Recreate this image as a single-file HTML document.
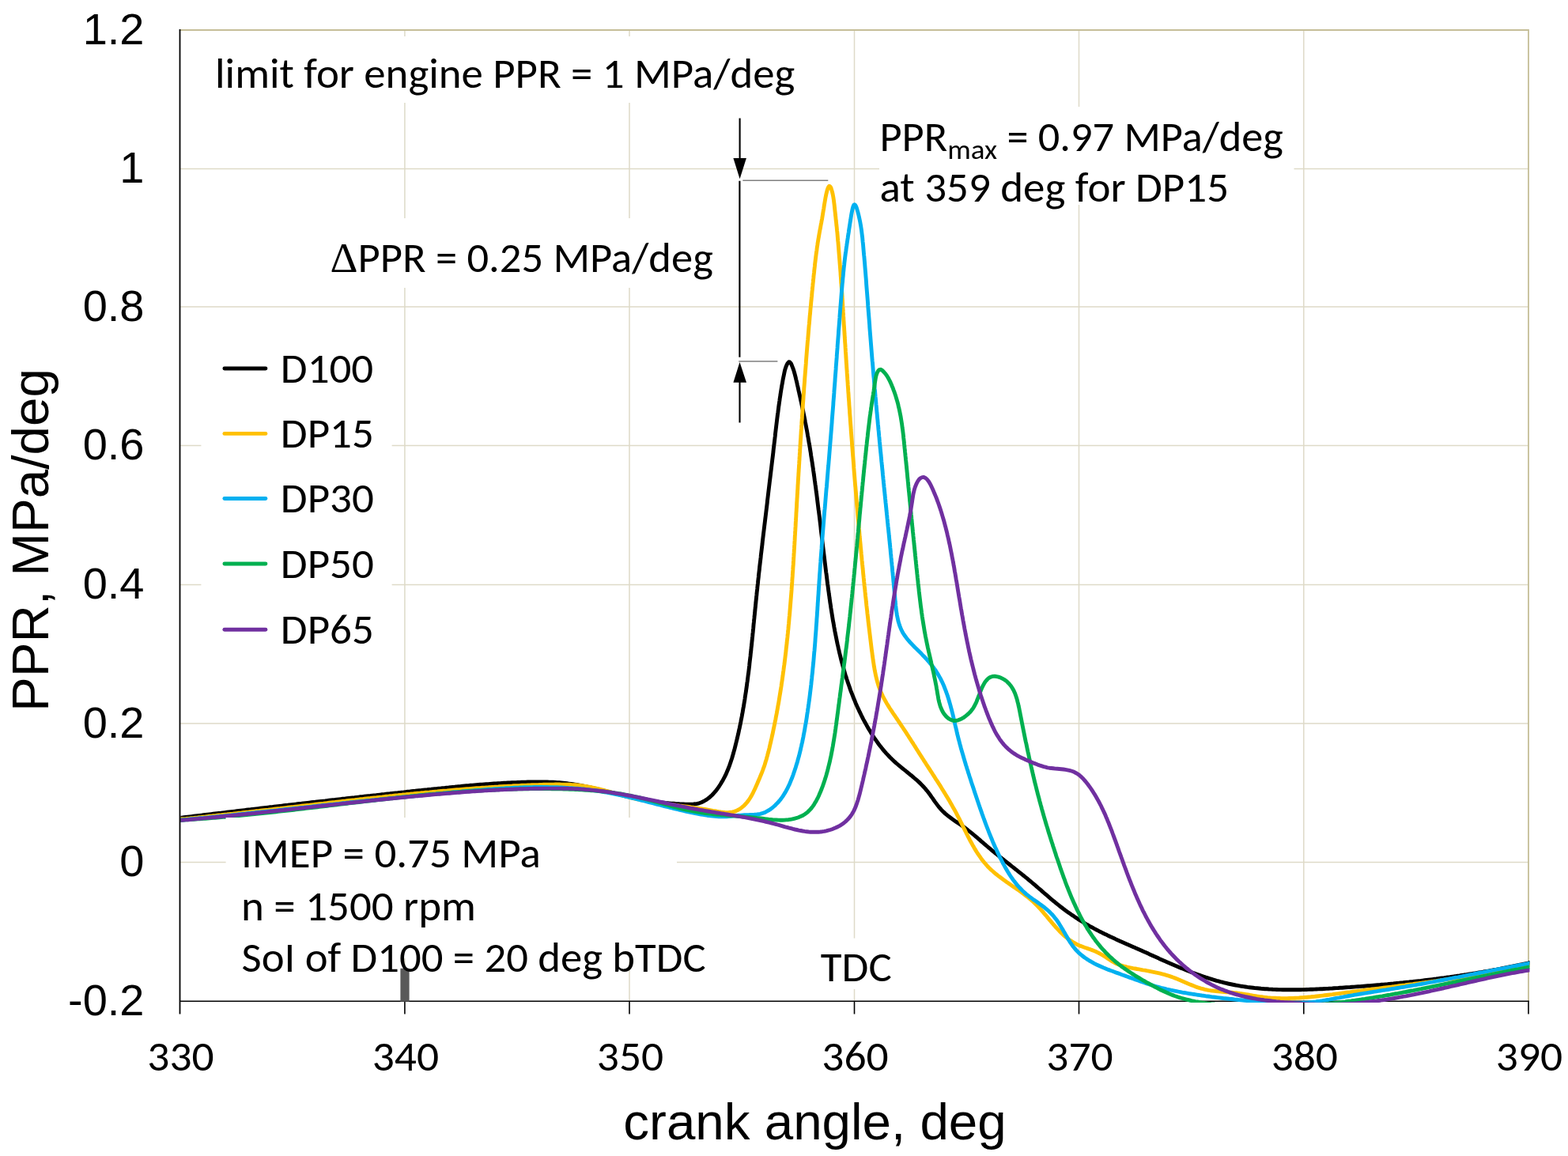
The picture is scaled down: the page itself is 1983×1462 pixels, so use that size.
<!DOCTYPE html><html><head><meta charset="utf-8"><title>PPR chart</title><style>html,body{margin:0;padding:0;background:#fff}svg{display:block}</style></head><body>
<svg width="1983" height="1462" viewBox="0 0 1983 1462">
<rect width="1983" height="1462" fill="#fff"/>
<defs><clipPath id="pa"><rect x="228.4" y="38" width="1706.1" height="1230.1"/></clipPath></defs>
<path d="M227.5,213.5H1933M227.5,388H1933M227.5,563.5H1933M227.5,739.6H1933M227.5,915H1933M227.5,1090.6H1933M511.9,38V1266.3M796,38V1266.3M1080.5,38V1266.3M1364.5,38V1266.3M1648.8,38V1266.3" stroke="#DEDAC8" stroke-width="1.5" fill="none"/>
<path d="M227.5,38H1933V1266.3" stroke="#C5BE98" stroke-width="1.8" fill="none"/>
<path d="M227.5,1266.3H1933.9" stroke="#000" stroke-width="1.6" fill="none"/>
<path d="M511.9,1266.3V1282.5M796,1266.3V1282.5M1080.5,1266.3V1282.5M1364.5,1266.3V1282.5M1648.8,1266.3V1282.5M1933,1266.3V1282.5" stroke="#000" stroke-width="1.6" fill="none"/>
<rect x="506.4" y="1224.7" width="11.2" height="42" fill="#595959"/>
<g clip-path="url(#pa)" fill="none" stroke-width="4.9" stroke-linejoin="round" stroke-linecap="round">
<path stroke="#000000" d="M227.5,1034.4L230.0,1034.1L232.5,1033.8L234.9,1033.5L237.4,1033.2L239.9,1032.9L242.4,1032.6L244.9,1032.3L247.3,1032.0L249.8,1031.7L252.3,1031.4L254.8,1031.1L257.3,1030.8L259.7,1030.5L262.2,1030.2L264.7,1029.9L267.2,1029.6L269.7,1029.3L272.1,1029.0L274.6,1028.7L277.1,1028.4L279.6,1028.2L282.1,1027.9L284.5,1027.6L287.0,1027.3L289.5,1027.0L292.0,1026.7L294.5,1026.4L297.0,1026.1L299.4,1025.8L301.9,1025.5L304.4,1025.2L306.9,1024.9L309.4,1024.6L311.8,1024.3L314.3,1024.0L316.8,1023.8L319.3,1023.5L321.8,1023.2L324.2,1022.9L326.7,1022.6L329.2,1022.3L331.7,1022.0L334.2,1021.7L336.6,1021.4L339.1,1021.1L341.6,1020.8L344.1,1020.6L346.6,1020.3L349.1,1020.0L351.5,1019.7L354.0,1019.4L356.5,1019.1L359.0,1018.8L361.5,1018.5L363.9,1018.3L366.4,1018.0L368.9,1017.7L371.4,1017.4L373.9,1017.1L376.3,1016.8L378.8,1016.5L381.3,1016.3L383.8,1016.0L386.3,1015.7L388.8,1015.4L391.2,1015.1L393.7,1014.8L396.2,1014.5L398.7,1014.3L401.2,1014.0L403.6,1013.7L406.1,1013.4L408.6,1013.1L411.1,1012.9L413.6,1012.6L416.1,1012.3L418.5,1012.0L421.0,1011.7L423.5,1011.5L426.0,1011.2L428.5,1010.9L430.9,1010.6L433.4,1010.3L435.9,1010.1L438.4,1009.8L440.9,1009.5L443.4,1009.2L445.8,1008.9L448.3,1008.7L450.8,1008.4L453.3,1008.1L455.8,1007.8L458.3,1007.6L460.7,1007.3L463.2,1007.0L465.7,1006.7L468.2,1006.5L470.7,1006.2L473.1,1005.9L475.6,1005.7L478.1,1005.4L480.6,1005.1L483.1,1004.8L485.6,1004.6L488.0,1004.3L490.5,1004.0L493.0,1003.8L495.5,1003.5L498.0,1003.2L500.5,1002.9L502.9,1002.7L505.4,1002.4L507.9,1002.1L510.4,1001.9L512.9,1001.6L515.4,1001.3L517.8,1001.1L520.3,1000.8L522.8,1000.5L525.3,1000.3L527.8,1000.0L530.3,999.7L532.8,999.5L535.2,999.2L537.7,998.9L540.2,998.7L542.7,998.4L545.2,998.2L547.7,997.9L550.1,997.6L552.6,997.4L555.1,997.1L557.6,996.9L560.1,996.6L562.6,996.4L565.1,996.1L567.5,995.9L570.0,995.6L572.5,995.4L575.0,995.2L577.5,994.9L580.0,994.7L582.5,994.5L584.9,994.2L587.4,994.0L589.9,993.8L592.4,993.6L594.9,993.3L597.4,993.1L599.9,992.9L602.4,992.7L604.9,992.5L607.3,992.3L609.8,992.1L612.3,991.9L614.8,991.7L617.3,991.6L619.8,991.4L622.3,991.2L624.8,991.0L627.3,990.9L629.8,990.7L632.3,990.6L634.8,990.4L637.3,990.3L639.8,990.2L642.2,990.0L644.7,989.9L647.2,989.8L649.7,989.7L652.2,989.6L654.7,989.5L657.2,989.4L659.7,989.3L662.2,989.2L664.7,989.1L667.2,989.0L669.7,989.0L672.2,988.9L674.7,988.9L677.2,988.9L679.7,988.9L682.2,988.9L684.7,988.9L687.2,988.9L689.7,989.0L692.2,989.0L694.7,989.1L697.2,989.2L699.7,989.3L702.2,989.4L704.7,989.6L707.2,989.8L709.6,990.0L712.1,990.2L714.6,990.5L717.1,990.8L719.5,991.1L722.0,991.4L724.5,991.7L726.9,992.1L729.4,992.5L731.9,993.0L734.3,993.4L736.8,993.9L739.2,994.4L741.7,994.9L744.1,995.4L746.6,995.9L749.0,996.5L751.4,997.0L753.9,997.6L756.3,998.2L758.8,998.8L761.2,999.4L763.6,1000.0L766.1,1000.6L768.5,1001.2L770.9,1001.8L773.4,1002.4L775.8,1003.0L778.2,1003.6L780.7,1004.2L783.1,1004.8L785.5,1005.4L788.0,1006.0L790.4,1006.6L792.8,1007.2L795.2,1007.7L797.7,1008.3L800.1,1008.8L802.5,1009.3L805.0,1009.8L807.4,1010.3L809.9,1010.8L812.3,1011.2L814.7,1011.7L817.2,1012.1L819.6,1012.5L822.1,1012.9L824.5,1013.3L827.0,1013.6L829.5,1014.0L831.9,1014.3L834.4,1014.6L836.8,1014.9L839.3,1015.2L841.8,1015.5L844.3,1015.7L846.8,1015.9L849.3,1016.1L851.8,1016.3L854.3,1016.5L856.8,1016.6L859.3,1016.8L861.8,1016.9L864.3,1017.0L866.9,1017.1L869.4,1017.1L871.9,1017.1L874.5,1017.1L877.0,1017.0L879.5,1016.8L881.9,1016.4L884.2,1015.8L886.5,1015.0L888.7,1014.0L890.8,1012.9L892.9,1011.7L894.9,1010.3L896.9,1008.8L898.7,1007.2L900.6,1005.5L902.3,1003.6L904.0,1001.7L905.6,999.8L907.2,997.7L908.7,995.6L910.1,993.5L911.5,991.3L912.8,989.1L914.1,986.9L915.3,984.7L916.5,982.4L917.6,980.2L918.6,977.9L919.6,975.6L920.6,973.3L921.5,970.9L922.4,968.6L923.2,966.3L924.0,963.9L924.8,961.5L925.6,959.2L926.3,956.8L927.0,954.4L927.7,952.0L928.3,949.6L929.0,947.2L929.6,944.8L930.2,942.4L930.8,940.0L931.4,937.5L932.0,935.1L932.6,932.7L933.1,930.3L933.7,927.9L934.2,925.4L934.7,923.0L935.3,920.6L935.8,918.1L936.3,915.7L936.8,913.2L937.2,910.8L937.7,908.4L938.2,905.9L938.6,903.5L939.1,901.0L939.5,898.6L939.9,896.1L940.4,893.7L940.8,891.2L941.2,888.7L941.6,886.3L942.0,883.8L942.3,881.4L942.7,878.9L943.1,876.4L943.5,874.0L943.8,871.5L944.2,869.0L944.5,866.6L944.8,864.1L945.2,861.6L945.5,859.1L945.8,856.7L946.1,854.2L946.5,851.7L946.8,849.2L947.1,846.7L947.4,844.3L947.7,841.8L947.9,839.3L948.2,836.8L948.5,834.3L948.8,831.8L949.1,829.3L949.3,826.9L949.6,824.4L949.9,821.9L950.1,819.4L950.4,816.9L950.7,814.4L950.9,811.9L951.2,809.4L951.4,806.9L951.7,804.5L951.9,802.0L952.2,799.5L952.4,797.0L952.7,794.5L952.9,792.0L953.1,789.5L953.4,787.0L953.6,784.5L953.9,782.0L954.1,779.5L954.4,777.1L954.6,774.6L954.9,772.1L955.1,769.6L955.4,767.1L955.6,764.6L955.9,762.1L956.1,759.6L956.4,757.1L956.6,754.7L956.9,752.2L957.1,749.7L957.4,747.2L957.7,744.7L957.9,742.2L958.2,739.7L958.5,737.3L958.7,734.8L959.0,732.3L959.3,729.8L959.5,727.3L959.8,724.8L960.1,722.4L960.4,719.9L960.6,717.4L960.9,714.9L961.2,712.4L961.5,710.0L961.8,707.5L962.1,705.0L962.3,702.5L962.6,700.0L962.9,697.6L963.2,695.1L963.5,692.6L963.8,690.1L964.1,687.6L964.3,685.2L964.6,682.7L964.9,680.2L965.2,677.7L965.5,675.3L965.8,672.8L966.1,670.3L966.4,667.8L966.7,665.3L967.0,662.9L967.3,660.4L967.6,657.9L967.9,655.4L968.2,653.0L968.5,650.5L968.8,648.0L969.1,645.5L969.4,643.0L969.7,640.6L970.0,638.1L970.3,635.6L970.5,633.1L970.8,630.7L971.1,628.2L971.4,625.7L971.7,623.2L972.0,620.7L972.3,618.3L972.6,615.8L972.9,613.3L973.2,610.8L973.5,608.3L973.8,605.9L974.1,603.4L974.4,600.9L974.7,598.4L975.0,595.9L975.3,593.5L975.6,591.0L975.9,588.5L976.2,586.0L976.5,583.5L976.8,581.0L977.1,578.6L977.4,576.1L977.7,573.6L978.0,571.1L978.2,568.6L978.5,566.1L978.8,563.6L979.1,561.2L979.4,558.7L979.7,556.2L980.0,553.7L980.3,551.2L980.5,548.7L980.8,546.2L981.1,543.7L981.4,541.2L981.7,538.8L982.0,536.3L982.3,533.8L982.6,531.3L982.9,528.8L983.2,526.4L983.5,523.9L983.9,521.4L984.2,518.9L984.5,516.5L984.8,514.0L985.2,511.5L985.5,509.1L985.9,506.6L986.2,504.1L986.6,501.7L987.0,499.2L987.3,496.8L987.7,494.3L988.1,491.9L988.5,489.5L988.9,487.0L989.4,484.6L989.8,482.2L990.2,479.7L990.7,477.3L991.2,474.9L991.7,472.4L992.2,470.0L992.8,467.4L993.7,464.7L994.8,461.9L996.1,459.3L997.5,457.8L998.9,458.0L1000.3,459.6L1001.5,462.3L1002.6,465.1L1003.6,467.9L1004.4,470.5L1005.1,473.0L1005.7,475.4L1006.3,477.7L1006.8,480.0L1007.4,482.3L1007.9,484.6L1008.4,487.0L1009.0,489.3L1009.5,491.7L1010.0,494.1L1010.6,496.5L1011.1,498.9L1011.7,501.4L1012.2,503.8L1012.7,506.3L1013.3,508.7L1013.8,511.2L1014.3,513.6L1014.8,516.1L1015.4,518.6L1015.9,521.1L1016.4,523.5L1016.9,526.0L1017.4,528.5L1017.9,530.9L1018.3,533.4L1018.8,535.9L1019.3,538.4L1019.7,540.8L1020.2,543.3L1020.7,545.8L1021.1,548.2L1021.5,550.7L1022.0,553.2L1022.4,555.6L1022.8,558.1L1023.2,560.6L1023.7,563.0L1024.1,565.5L1024.5,568.0L1024.9,570.5L1025.3,572.9L1025.6,575.4L1026.0,577.9L1026.4,580.3L1026.8,582.8L1027.2,585.2L1027.5,587.7L1027.9,590.2L1028.3,592.6L1028.6,595.1L1029.0,597.6L1029.3,600.0L1029.7,602.5L1030.0,605.0L1030.3,607.4L1030.7,609.9L1031.0,612.4L1031.4,614.8L1031.7,617.3L1032.0,619.8L1032.3,622.2L1032.7,624.7L1033.0,627.2L1033.3,629.6L1033.6,632.1L1033.9,634.6L1034.2,637.0L1034.5,639.5L1034.8,642.0L1035.1,644.4L1035.5,646.9L1035.8,649.4L1036.1,651.8L1036.4,654.3L1036.7,656.8L1037.0,659.3L1037.3,661.7L1037.6,664.2L1037.9,666.7L1038.1,669.1L1038.4,671.6L1038.7,674.1L1039.0,676.5L1039.3,679.0L1039.6,681.5L1039.9,684.0L1040.2,686.4L1040.5,688.9L1040.8,691.4L1041.1,693.9L1041.4,696.3L1041.7,698.8L1042.0,701.3L1042.3,703.8L1042.6,706.3L1042.9,708.7L1043.2,711.2L1043.5,713.7L1043.8,716.2L1044.1,718.7L1044.4,721.2L1044.7,723.6L1045.1,726.1L1045.4,728.6L1045.7,731.1L1046.0,733.6L1046.3,736.1L1046.6,738.6L1047.0,741.0L1047.3,743.5L1047.6,746.0L1048.0,748.5L1048.3,751.0L1048.7,753.5L1049.0,756.0L1049.4,758.5L1049.7,761.0L1050.1,763.5L1050.5,765.9L1050.8,768.4L1051.2,770.9L1051.6,773.4L1052.0,775.9L1052.4,778.4L1052.8,780.8L1053.2,783.3L1053.6,785.8L1054.1,788.3L1054.5,790.7L1054.9,793.2L1055.4,795.7L1055.8,798.2L1056.3,800.6L1056.8,803.1L1057.3,805.5L1057.8,808.0L1058.3,810.4L1058.8,812.9L1059.3,815.3L1059.9,817.8L1060.4,820.2L1061.0,822.7L1061.5,825.1L1062.1,827.5L1062.7,829.9L1063.3,832.4L1063.9,834.8L1064.5,837.2L1065.2,839.6L1065.8,842.0L1066.5,844.4L1067.2,846.8L1067.9,849.2L1068.6,851.6L1069.3,853.9L1070.1,856.3L1070.8,858.7L1071.6,861.0L1072.4,863.4L1073.2,865.7L1074.0,868.1L1074.8,870.4L1075.6,872.8L1076.5,875.1L1077.4,877.4L1078.3,879.7L1079.2,882.0L1080.1,884.3L1081.1,886.6L1082.0,888.9L1083.0,891.2L1084.0,893.4L1085.0,895.7L1086.1,897.9L1087.1,900.2L1088.2,902.4L1089.3,904.7L1090.4,906.9L1091.5,909.1L1092.7,911.3L1093.9,913.5L1095.1,915.7L1096.3,917.9L1097.5,920.0L1098.8,922.2L1100.1,924.3L1101.4,926.5L1102.7,928.6L1104.1,930.7L1105.4,932.8L1106.9,934.9L1108.3,936.9L1109.7,938.9L1111.2,941.0L1112.7,943.0L1114.3,944.9L1115.8,946.9L1117.4,948.8L1119.0,950.7L1120.7,952.6L1122.4,954.4L1124.1,956.2L1125.8,958.0L1127.6,959.8L1129.4,961.5L1131.2,963.2L1133.1,964.9L1135.0,966.5L1136.9,968.1L1138.8,969.7L1140.8,971.3L1142.7,972.9L1144.7,974.4L1146.6,976.0L1148.6,977.6L1150.5,979.2L1152.5,980.7L1154.4,982.3L1156.3,984.0L1158.2,985.6L1160.1,987.2L1161.9,988.9L1163.7,990.6L1165.5,992.4L1167.2,994.2L1168.9,996.0L1170.5,997.9L1172.1,999.8L1173.7,1001.8L1175.2,1003.8L1176.7,1005.8L1178.1,1007.9L1179.6,1009.9L1181.0,1012.0L1182.5,1014.1L1184.0,1016.1L1185.5,1018.1L1187.0,1020.1L1188.6,1022.0L1190.3,1023.9L1192.0,1025.7L1193.8,1027.4L1195.6,1029.1L1197.5,1030.7L1199.5,1032.3L1201.5,1033.8L1203.5,1035.3L1205.5,1036.7L1207.6,1038.2L1209.7,1039.6L1211.8,1041.0L1213.9,1042.4L1215.9,1043.9L1218.0,1045.3L1220.0,1046.8L1222.0,1048.3L1224.0,1049.8L1225.9,1051.3L1227.9,1052.9L1229.8,1054.4L1231.7,1056.0L1233.6,1057.6L1235.5,1059.2L1237.4,1060.8L1239.2,1062.4L1241.1,1064.1L1243.0,1065.7L1244.9,1067.3L1246.7,1068.9L1248.6,1070.5L1250.5,1072.1L1252.4,1073.7L1254.3,1075.3L1256.2,1076.9L1258.1,1078.5L1260.1,1080.0L1262.0,1081.6L1263.9,1083.2L1265.9,1084.7L1267.8,1086.3L1269.8,1087.8L1271.8,1089.4L1273.7,1090.9L1275.7,1092.5L1277.6,1094.0L1279.6,1095.6L1281.6,1097.1L1283.5,1098.7L1285.5,1100.2L1287.5,1101.8L1289.4,1103.3L1291.4,1104.9L1293.3,1106.5L1295.3,1108.0L1297.2,1109.6L1299.2,1111.2L1301.1,1112.8L1303.0,1114.4L1304.9,1116.0L1306.8,1117.6L1308.7,1119.2L1310.6,1120.8L1312.5,1122.5L1314.4,1124.1L1316.3,1125.7L1318.1,1127.3L1320.0,1129.0L1321.9,1130.6L1323.8,1132.2L1325.7,1133.8L1327.6,1135.5L1329.4,1137.1L1331.3,1138.7L1333.3,1140.2L1335.2,1141.8L1337.1,1143.4L1339.0,1144.9L1341.0,1146.5L1343.0,1148.0L1344.9,1149.5L1346.9,1151.0L1348.9,1152.4L1351.0,1153.9L1353.0,1155.3L1355.0,1156.7L1357.1,1158.1L1359.1,1159.5L1361.2,1160.9L1363.3,1162.3L1365.4,1163.6L1367.5,1164.9L1369.6,1166.2L1371.7,1167.5L1373.8,1168.8L1376.0,1170.0L1378.1,1171.3L1380.3,1172.5L1382.5,1173.7L1384.6,1174.8L1386.8,1176.0L1389.0,1177.1L1391.2,1178.3L1393.4,1179.4L1395.6,1180.5L1397.8,1181.6L1400.1,1182.6L1402.3,1183.7L1404.5,1184.8L1406.8,1185.8L1409.0,1186.8L1411.3,1187.9L1413.6,1188.9L1415.8,1189.9L1418.1,1190.9L1420.4,1191.9L1422.6,1192.9L1424.9,1193.9L1427.2,1194.9L1429.5,1195.9L1431.7,1196.9L1434.0,1197.9L1436.3,1199.0L1438.6,1200.0L1440.9,1201.0L1443.2,1202.0L1445.4,1203.0L1447.7,1204.1L1450.0,1205.1L1452.3,1206.1L1454.6,1207.2L1456.9,1208.2L1459.2,1209.3L1461.5,1210.3L1463.8,1211.3L1466.1,1212.4L1468.4,1213.4L1470.7,1214.4L1473.0,1215.4L1475.3,1216.5L1477.6,1217.5L1479.9,1218.5L1482.2,1219.5L1484.6,1220.5L1486.9,1221.5L1489.2,1222.4L1491.5,1223.4L1493.9,1224.4L1496.2,1225.3L1498.5,1226.3L1500.8,1227.2L1503.2,1228.1L1505.5,1229.1L1507.9,1230.0L1510.2,1230.8L1512.6,1231.7L1514.9,1232.6L1517.3,1233.4L1519.6,1234.2L1522.0,1235.1L1524.4,1235.9L1526.7,1236.6L1529.1,1237.4L1531.5,1238.1L1533.9,1238.9L1536.3,1239.6L1538.6,1240.3L1541.0,1240.9L1543.4,1241.6L1545.8,1242.2L1548.2,1242.8L1550.7,1243.4L1553.1,1244.0L1555.5,1244.5L1557.9,1245.0L1560.3,1245.5L1562.8,1246.0L1565.2,1246.4L1567.7,1246.8L1570.1,1247.3L1572.6,1247.6L1575.0,1248.0L1577.5,1248.4L1579.9,1248.7L1582.4,1249.0L1584.8,1249.3L1587.3,1249.6L1589.8,1249.8L1592.3,1250.0L1594.7,1250.3L1597.2,1250.5L1599.7,1250.7L1602.2,1250.8L1604.7,1251.0L1607.2,1251.1L1609.7,1251.3L1612.1,1251.4L1614.6,1251.5L1617.1,1251.6L1619.6,1251.6L1622.1,1251.7L1624.6,1251.7L1627.1,1251.8L1629.6,1251.8L1632.2,1251.8L1634.7,1251.8L1637.2,1251.8L1639.7,1251.8L1642.2,1251.7L1644.7,1251.7L1647.2,1251.6L1649.7,1251.6L1652.2,1251.5L1654.8,1251.4L1657.3,1251.3L1659.8,1251.2L1662.3,1251.1L1664.8,1251.0L1667.3,1250.9L1669.8,1250.8L1672.3,1250.7L1674.9,1250.5L1677.4,1250.4L1679.9,1250.3L1682.4,1250.1L1684.9,1250.0L1687.4,1249.8L1689.9,1249.6L1692.4,1249.5L1694.9,1249.3L1697.4,1249.2L1699.9,1249.0L1702.4,1248.8L1704.9,1248.6L1707.4,1248.5L1709.9,1248.3L1712.4,1248.1L1714.9,1247.9L1717.4,1247.7L1719.9,1247.6L1722.4,1247.4L1724.9,1247.2L1727.4,1247.0L1729.9,1246.8L1732.3,1246.6L1734.8,1246.4L1737.3,1246.2L1739.8,1246.0L1742.3,1245.8L1744.8,1245.6L1747.2,1245.3L1749.7,1245.1L1752.2,1244.9L1754.7,1244.7L1757.1,1244.4L1759.6,1244.2L1762.1,1244.0L1764.6,1243.7L1767.0,1243.5L1769.5,1243.3L1772.0,1243.0L1774.5,1242.8L1776.9,1242.5L1779.4,1242.2L1781.9,1242.0L1784.3,1241.7L1786.8,1241.5L1789.3,1241.2L1791.7,1240.9L1794.2,1240.6L1796.7,1240.4L1799.1,1240.1L1801.6,1239.8L1804.1,1239.5L1806.5,1239.2L1809.0,1238.9L1811.5,1238.6L1813.9,1238.3L1816.4,1238.0L1818.8,1237.6L1821.3,1237.3L1823.8,1237.0L1826.2,1236.7L1828.7,1236.3L1831.2,1236.0L1833.6,1235.7L1836.1,1235.3L1838.5,1235.0L1841.0,1234.6L1843.5,1234.2L1845.9,1233.9L1848.4,1233.5L1850.8,1233.1L1853.3,1232.8L1855.8,1232.4L1858.2,1232.0L1860.7,1231.6L1863.1,1231.2L1865.6,1230.8L1868.1,1230.4L1870.5,1230.0L1873.0,1229.6L1875.5,1229.2L1877.9,1228.7L1880.4,1228.3L1882.9,1227.9L1885.3,1227.4L1887.8,1227.0L1890.2,1226.5L1892.7,1226.1L1895.2,1225.6L1897.6,1225.2L1900.1,1224.7L1902.6,1224.2L1905.1,1223.7L1907.5,1223.2L1910.0,1222.7L1912.5,1222.2L1914.9,1221.7L1917.4,1221.2L1919.9,1220.7L1922.3,1220.2L1924.8,1219.7L1927.3,1219.1L1929.8,1218.6L1932.3,1218.1L1934.7,1217.5"/>
<path stroke="#FFC000" d="M227.5,1036.1L230.0,1035.8L232.5,1035.6L235.0,1035.4L237.4,1035.1L239.9,1034.9L242.4,1034.6L244.9,1034.4L247.4,1034.1L249.9,1033.9L252.3,1033.6L254.8,1033.4L257.3,1033.1L259.8,1032.9L262.3,1032.6L264.8,1032.3L267.3,1032.1L269.7,1031.8L272.2,1031.6L274.7,1031.3L277.2,1031.0L279.7,1030.8L282.2,1030.5L284.6,1030.2L287.1,1030.0L289.6,1029.7L292.1,1029.4L294.6,1029.2L297.1,1028.9L299.5,1028.6L302.0,1028.3L304.5,1028.1L307.0,1027.8L309.5,1027.5L312.0,1027.2L314.5,1027.0L316.9,1026.7L319.4,1026.4L321.9,1026.1L324.4,1025.8L326.9,1025.6L329.4,1025.3L331.8,1025.0L334.3,1024.7L336.8,1024.4L339.3,1024.2L341.8,1023.9L344.3,1023.6L346.7,1023.3L349.2,1023.0L351.7,1022.7L354.2,1022.5L356.7,1022.2L359.2,1021.9L361.6,1021.6L364.1,1021.3L366.6,1021.0L369.1,1020.7L371.6,1020.5L374.0,1020.2L376.5,1019.9L379.0,1019.6L381.5,1019.3L384.0,1019.0L386.5,1018.7L388.9,1018.4L391.4,1018.2L393.9,1017.9L396.4,1017.6L398.9,1017.3L401.4,1017.0L403.8,1016.7L406.3,1016.4L408.8,1016.2L411.3,1015.9L413.8,1015.6L416.3,1015.3L418.8,1015.0L421.2,1014.7L423.7,1014.5L426.2,1014.2L428.7,1013.9L431.2,1013.6L433.7,1013.3L436.1,1013.1L438.6,1012.8L441.1,1012.5L443.6,1012.2L446.1,1011.9L448.6,1011.7L451.0,1011.4L453.5,1011.1L456.0,1010.8L458.5,1010.6L461.0,1010.3L463.5,1010.0L465.9,1009.7L468.4,1009.5L470.9,1009.2L473.4,1008.9L475.9,1008.7L478.4,1008.4L480.9,1008.1L483.3,1007.9L485.8,1007.6L488.3,1007.3L490.8,1007.1L493.3,1006.8L495.8,1006.6L498.3,1006.3L500.7,1006.0L503.2,1005.8L505.7,1005.5L508.2,1005.3L510.7,1005.0L513.2,1004.8L515.7,1004.5L518.1,1004.3L520.6,1004.0L523.1,1003.8L525.6,1003.5L528.1,1003.3L530.6,1003.1L533.1,1002.8L535.5,1002.6L538.0,1002.3L540.5,1002.1L543.0,1001.9L545.5,1001.6L548.0,1001.4L550.5,1001.2L553.0,1001.0L555.4,1000.7L557.9,1000.5L560.4,1000.3L562.9,1000.1L565.4,999.9L567.9,999.6L570.4,999.4L572.9,999.2L575.4,999.0L577.8,998.8L580.3,998.6L582.8,998.4L585.3,998.2L587.8,998.0L590.3,997.8L592.8,997.6L595.3,997.4L597.8,997.2L600.3,997.0L602.7,996.8L605.2,996.6L607.7,996.5L610.2,996.3L612.7,996.1L615.2,995.9L617.7,995.8L620.2,995.6L622.7,995.4L625.2,995.3L627.7,995.1L630.2,995.0L632.6,994.8L635.1,994.7L637.6,994.5L640.1,994.4L642.6,994.2L645.1,994.1L647.6,994.0L650.1,993.8L652.6,993.7L655.1,993.6L657.6,993.5L660.1,993.3L662.6,993.2L665.1,993.1L667.6,993.0L670.1,992.9L672.6,992.8L675.1,992.7L677.6,992.6L680.1,992.6L682.6,992.5L685.1,992.4L687.6,992.3L690.1,992.3L692.6,992.2L695.1,992.2L697.6,992.1L700.1,992.1L702.6,992.0L705.1,992.0L707.6,992.0L710.1,992.1L712.6,992.1L715.1,992.2L717.6,992.2L720.1,992.3L722.6,992.5L725.1,992.6L727.5,992.8L730.0,993.0L732.5,993.3L735.0,993.6L737.4,993.9L739.9,994.3L742.4,994.7L744.8,995.1L747.3,995.6L749.7,996.1L752.2,996.6L754.6,997.2L757.1,997.7L759.5,998.3L762.0,999.0L764.4,999.6L766.8,1000.3L769.3,1000.9L771.7,1001.6L774.1,1002.3L776.5,1003.0L779.0,1003.7L781.4,1004.4L783.8,1005.1L786.2,1005.7L788.7,1006.4L791.1,1007.1L793.5,1007.7L795.9,1008.3L798.3,1008.9L800.7,1009.5L803.2,1010.1L805.6,1010.6L808.0,1011.2L810.4,1011.7L812.8,1012.1L815.3,1012.6L817.7,1013.0L820.1,1013.5L822.5,1013.9L825.0,1014.3L827.4,1014.7L829.8,1015.0L832.3,1015.4L834.7,1015.8L837.1,1016.1L839.6,1016.4L842.0,1016.8L844.4,1017.1L846.9,1017.4L849.3,1017.7L851.8,1018.0L854.2,1018.3L856.7,1018.6L859.2,1019.0L861.6,1019.3L864.1,1019.6L866.6,1019.9L869.0,1020.2L871.5,1020.5L874.0,1020.9L876.5,1021.2L879.0,1021.6L881.5,1021.9L884.0,1022.3L886.5,1022.7L889.0,1023.1L891.5,1023.5L894.0,1023.9L896.5,1024.3L899.1,1024.8L901.6,1025.3L904.1,1025.7L906.7,1026.2L909.2,1026.6L911.7,1027.0L914.2,1027.3L916.7,1027.5L919.1,1027.6L921.6,1027.5L923.9,1027.3L926.3,1026.9L928.6,1026.4L930.8,1025.6L933.0,1024.5L935.1,1023.3L937.2,1022.0L939.1,1020.4L941.0,1018.8L942.7,1017.0L944.4,1015.1L946.0,1013.1L947.4,1011.1L948.8,1009.0L950.1,1006.8L951.3,1004.6L952.5,1002.3L953.6,1000.0L954.7,997.7L955.8,995.3L956.8,993.0L957.8,990.7L958.8,988.3L959.8,986.0L960.8,983.7L961.7,981.4L962.7,979.1L963.6,976.9L964.5,974.5L965.3,972.2L966.2,969.9L967.0,967.5L967.7,965.2L968.4,962.8L969.2,960.4L969.8,958.0L970.5,955.6L971.1,953.2L971.8,950.8L972.4,948.4L973.0,946.0L973.5,943.5L974.1,941.1L974.7,938.7L975.2,936.2L975.8,933.8L976.3,931.4L976.9,928.9L977.4,926.5L977.9,924.1L978.4,921.6L978.9,919.2L979.4,916.7L979.9,914.3L980.4,911.8L980.9,909.4L981.3,906.9L981.8,904.5L982.3,902.0L982.7,899.6L983.2,897.1L983.6,894.7L984.0,892.2L984.5,889.8L984.9,887.3L985.3,884.8L985.7,882.4L986.1,879.9L986.5,877.5L986.9,875.0L987.3,872.5L987.7,870.1L988.1,867.6L988.4,865.1L988.8,862.7L989.2,860.2L989.5,857.7L989.9,855.2L990.2,852.8L990.5,850.3L990.9,847.8L991.2,845.4L991.5,842.9L991.9,840.4L992.2,837.9L992.5,835.5L992.8,833.0L993.1,830.5L993.4,828.0L993.7,825.5L994.0,823.1L994.2,820.6L994.5,818.1L994.8,815.6L995.1,813.1L995.3,810.6L995.6,808.2L995.9,805.7L996.1,803.2L996.4,800.7L996.6,798.2L996.9,795.7L997.1,793.2L997.3,790.7L997.6,788.3L997.8,785.8L998.0,783.3L998.2,780.8L998.5,778.3L998.7,775.8L998.9,773.3L999.1,770.8L999.3,768.3L999.5,765.8L999.7,763.3L999.9,760.8L1000.1,758.3L1000.3,755.8L1000.5,753.4L1000.7,750.9L1000.9,748.4L1001.1,745.9L1001.2,743.4L1001.4,740.9L1001.6,738.4L1001.8,735.9L1001.9,733.4L1002.1,730.9L1002.3,728.4L1002.4,725.9L1002.6,723.4L1002.8,720.9L1002.9,718.4L1003.1,715.9L1003.3,713.4L1003.4,710.9L1003.6,708.4L1003.7,705.9L1003.9,703.4L1004.0,700.9L1004.2,698.4L1004.3,695.9L1004.5,693.4L1004.6,690.9L1004.8,688.4L1004.9,685.9L1005.1,683.4L1005.2,680.9L1005.3,678.4L1005.5,675.9L1005.6,673.4L1005.8,670.9L1005.9,668.4L1006.1,665.9L1006.2,663.4L1006.3,660.9L1006.5,658.4L1006.6,655.9L1006.8,653.5L1006.9,651.0L1007.0,648.5L1007.2,646.0L1007.3,643.5L1007.5,641.0L1007.6,638.5L1007.7,636.0L1007.9,633.5L1008.0,631.0L1008.2,628.5L1008.3,626.0L1008.5,623.5L1008.6,621.0L1008.8,618.5L1008.9,616.0L1009.0,613.6L1009.2,611.1L1009.3,608.6L1009.5,606.1L1009.6,603.6L1009.8,601.1L1009.9,598.6L1010.1,596.1L1010.2,593.6L1010.4,591.1L1010.5,588.6L1010.7,586.2L1010.8,583.7L1011.0,581.2L1011.1,578.7L1011.3,576.2L1011.4,573.7L1011.6,571.2L1011.7,568.7L1011.9,566.2L1012.0,563.8L1012.2,561.3L1012.3,558.8L1012.5,556.3L1012.7,553.8L1012.8,551.3L1013.0,548.8L1013.1,546.3L1013.3,543.8L1013.5,541.4L1013.6,538.9L1013.8,536.4L1013.9,533.9L1014.1,531.4L1014.3,528.9L1014.4,526.4L1014.6,523.9L1014.8,521.5L1014.9,519.0L1015.1,516.5L1015.3,514.0L1015.4,511.5L1015.6,509.0L1015.8,506.5L1016.0,504.0L1016.1,501.5L1016.3,499.1L1016.5,496.6L1016.7,494.1L1016.8,491.6L1017.0,489.1L1017.2,486.6L1017.4,484.1L1017.6,481.6L1017.7,479.1L1017.9,476.7L1018.1,474.2L1018.3,471.7L1018.5,469.2L1018.7,466.7L1018.9,464.2L1019.1,461.7L1019.3,459.2L1019.4,456.7L1019.6,454.2L1019.8,451.7L1020.0,449.2L1020.2,446.8L1020.4,444.3L1020.6,441.8L1020.8,439.3L1021.0,436.8L1021.2,434.3L1021.4,431.8L1021.7,429.3L1021.9,426.8L1022.1,424.3L1022.3,421.8L1022.5,419.3L1022.7,416.8L1022.9,414.3L1023.1,411.8L1023.4,409.3L1023.6,406.8L1023.8,404.3L1024.0,401.8L1024.2,399.3L1024.5,396.9L1024.7,394.4L1024.9,391.9L1025.1,389.4L1025.4,386.9L1025.6,384.4L1025.8,381.9L1026.1,379.4L1026.3,376.9L1026.6,374.3L1026.8,371.8L1027.0,369.3L1027.3,366.8L1027.5,364.3L1027.8,361.8L1028.0,359.3L1028.3,356.8L1028.5,354.3L1028.8,351.8L1029.0,349.3L1029.3,346.8L1029.6,344.3L1029.8,341.8L1030.1,339.3L1030.4,336.8L1030.6,334.3L1030.9,331.9L1031.2,329.4L1031.5,326.9L1031.8,324.4L1032.1,322.0L1032.4,319.6L1032.8,317.1L1033.1,314.7L1033.4,312.3L1033.8,309.9L1034.1,307.5L1034.5,305.1L1034.9,302.7L1035.3,300.4L1035.7,298.0L1036.1,295.7L1036.5,293.4L1036.9,291.1L1037.4,288.8L1037.8,286.4L1038.2,284.1L1038.7,281.7L1039.1,279.3L1039.6,276.9L1040.0,274.4L1040.4,271.9L1040.8,269.4L1041.2,266.8L1041.7,264.1L1042.1,261.4L1042.5,258.7L1043.0,255.8L1043.5,252.9L1044.0,249.9L1044.6,246.9L1045.3,243.8L1046.0,241.0L1046.8,238.5L1047.6,236.7L1048.5,235.5L1049.3,235.4L1050.1,236.2L1051.0,237.8L1051.7,240.1L1052.5,242.8L1053.2,245.9L1053.8,249.1L1054.3,252.3L1054.7,255.5L1055.1,258.6L1055.4,261.6L1055.7,264.5L1056.0,267.2L1056.3,269.8L1056.5,272.2L1056.8,274.4L1057.0,276.6L1057.2,278.7L1057.5,280.8L1057.7,283.0L1057.9,285.2L1058.2,287.4L1058.4,289.7L1058.6,292.0L1058.9,294.4L1059.1,296.8L1059.3,299.3L1059.5,301.8L1059.7,304.3L1060.0,306.8L1060.2,309.3L1060.4,311.9L1060.6,314.4L1060.8,317.0L1061.0,319.5L1061.2,322.0L1061.4,324.6L1061.6,327.1L1061.8,329.6L1062.0,332.2L1062.2,334.7L1062.4,337.2L1062.6,339.7L1062.8,342.2L1063.0,344.7L1063.1,347.3L1063.3,349.8L1063.5,352.3L1063.7,354.8L1063.8,357.3L1064.0,359.8L1064.2,362.3L1064.4,364.8L1064.5,367.3L1064.7,369.8L1064.9,372.3L1065.0,374.8L1065.2,377.3L1065.4,379.8L1065.5,382.3L1065.7,384.7L1065.8,387.2L1066.0,389.7L1066.2,392.2L1066.3,394.7L1066.5,397.2L1066.6,399.7L1066.8,402.2L1066.9,404.6L1067.1,407.1L1067.2,409.6L1067.4,412.1L1067.6,414.6L1067.7,417.1L1067.9,419.5L1068.0,422.0L1068.2,424.5L1068.3,427.0L1068.5,429.5L1068.6,432.0L1068.8,434.4L1069.0,436.9L1069.1,439.4L1069.3,441.9L1069.4,444.4L1069.6,446.9L1069.8,449.4L1069.9,451.8L1070.1,454.3L1070.2,456.8L1070.4,459.3L1070.6,461.8L1070.7,464.3L1070.9,466.8L1071.1,469.3L1071.2,471.7L1071.4,474.2L1071.6,476.7L1071.7,479.2L1071.9,481.7L1072.1,484.2L1072.2,486.7L1072.4,489.2L1072.6,491.7L1072.7,494.2L1072.9,496.7L1073.1,499.1L1073.2,501.6L1073.4,504.1L1073.6,506.6L1073.8,509.1L1073.9,511.6L1074.1,514.1L1074.3,516.6L1074.5,519.1L1074.6,521.6L1074.8,524.1L1075.0,526.6L1075.2,529.1L1075.3,531.6L1075.5,534.0L1075.7,536.5L1075.9,539.0L1076.1,541.5L1076.2,544.0L1076.4,546.5L1076.6,549.0L1076.8,551.5L1077.0,554.0L1077.2,556.5L1077.4,559.0L1077.5,561.5L1077.7,564.0L1077.9,566.5L1078.1,569.0L1078.3,571.5L1078.5,574.0L1078.7,576.5L1078.9,578.9L1079.1,581.4L1079.3,583.9L1079.5,586.4L1079.7,588.9L1079.8,591.4L1080.0,593.9L1080.2,596.4L1080.4,598.9L1080.6,601.4L1080.8,603.9L1081.0,606.4L1081.2,608.9L1081.4,611.4L1081.6,613.9L1081.9,616.4L1082.1,618.9L1082.3,621.3L1082.5,623.8L1082.7,626.3L1082.9,628.8L1083.1,631.3L1083.3,633.8L1083.5,636.3L1083.7,638.8L1083.9,641.3L1084.2,643.8L1084.4,646.3L1084.6,648.8L1084.8,651.3L1085.0,653.7L1085.2,656.2L1085.5,658.7L1085.7,661.2L1085.9,663.7L1086.1,666.2L1086.3,668.7L1086.6,671.2L1086.8,673.7L1087.0,676.2L1087.2,678.6L1087.5,681.1L1087.7,683.6L1087.9,686.1L1088.2,688.6L1088.4,691.1L1088.6,693.6L1088.9,696.1L1089.1,698.5L1089.3,701.0L1089.6,703.5L1089.8,706.0L1090.0,708.5L1090.3,711.0L1090.5,713.5L1090.8,715.9L1091.0,718.4L1091.3,720.9L1091.5,723.4L1091.7,725.9L1092.0,728.4L1092.2,730.8L1092.5,733.3L1092.7,735.8L1093.0,738.3L1093.2,740.8L1093.5,743.2L1093.8,745.7L1094.0,748.2L1094.3,750.7L1094.5,753.2L1094.8,755.6L1095.1,758.1L1095.3,760.6L1095.6,763.1L1095.8,765.5L1096.1,768.0L1096.4,770.5L1096.7,773.0L1096.9,775.5L1097.2,777.9L1097.5,780.4L1097.8,782.9L1098.0,785.4L1098.3,787.8L1098.6,790.3L1098.9,792.8L1099.2,795.3L1099.5,797.8L1099.8,800.3L1100.1,802.7L1100.4,805.2L1100.7,807.7L1101.0,810.2L1101.3,812.7L1101.6,815.2L1101.9,817.7L1102.2,820.2L1102.5,822.7L1102.9,825.2L1103.2,827.7L1103.5,830.2L1103.9,832.7L1104.2,835.2L1104.6,837.7L1105.0,840.1L1105.3,842.6L1105.8,845.1L1106.2,847.6L1106.7,850.0L1107.2,852.5L1107.7,854.9L1108.3,857.4L1108.9,859.8L1109.5,862.1L1110.2,864.5L1110.9,866.9L1111.7,869.2L1112.6,871.5L1113.5,873.8L1114.4,876.1L1115.5,878.3L1116.5,880.5L1117.6,882.7L1118.8,884.9L1120.0,887.0L1121.2,889.2L1122.5,891.3L1123.8,893.4L1125.1,895.5L1126.5,897.6L1127.9,899.7L1129.3,901.8L1130.7,903.8L1132.1,905.9L1133.5,908.0L1134.9,910.0L1136.3,912.1L1137.7,914.2L1139.1,916.3L1140.5,918.4L1141.9,920.5L1143.3,922.6L1144.7,924.7L1146.1,926.8L1147.4,928.9L1148.8,931.0L1150.1,933.1L1151.5,935.2L1152.8,937.3L1154.2,939.4L1155.5,941.5L1156.9,943.6L1158.2,945.7L1159.5,947.9L1160.9,950.0L1162.2,952.1L1163.5,954.2L1164.9,956.3L1166.2,958.4L1167.6,960.5L1168.9,962.6L1170.3,964.7L1171.6,966.8L1173.0,968.9L1174.3,971.0L1175.7,973.0L1177.0,975.1L1178.4,977.2L1179.7,979.3L1181.1,981.4L1182.4,983.5L1183.7,985.6L1185.1,987.7L1186.4,989.7L1187.8,991.8L1189.1,993.9L1190.4,996.0L1191.7,998.2L1193.0,1000.3L1194.3,1002.4L1195.6,1004.5L1196.9,1006.6L1198.2,1008.8L1199.5,1010.9L1200.8,1013.1L1202.0,1015.2L1203.3,1017.4L1204.5,1019.6L1205.7,1021.8L1207.0,1024.0L1208.2,1026.2L1209.4,1028.4L1210.5,1030.6L1211.7,1032.9L1212.9,1035.1L1214.0,1037.4L1215.1,1039.6L1216.3,1041.9L1217.4,1044.2L1218.5,1046.5L1219.6,1048.7L1220.8,1051.0L1221.9,1053.3L1223.1,1055.6L1224.2,1057.8L1225.4,1060.1L1226.5,1062.3L1227.7,1064.5L1228.9,1066.7L1230.1,1068.9L1231.4,1071.1L1232.6,1073.3L1233.9,1075.4L1235.2,1077.5L1236.6,1079.6L1238.0,1081.7L1239.4,1083.7L1240.8,1085.7L1242.3,1087.7L1243.8,1089.6L1245.4,1091.5L1247.0,1093.4L1248.6,1095.2L1250.3,1097.0L1252.1,1098.7L1253.8,1100.4L1255.7,1102.0L1257.5,1103.7L1259.4,1105.3L1261.4,1106.8L1263.3,1108.3L1265.3,1109.8L1267.3,1111.3L1269.3,1112.8L1271.4,1114.2L1273.4,1115.7L1275.4,1117.1L1277.5,1118.5L1279.5,1119.9L1281.6,1121.4L1283.6,1122.8L1285.7,1124.2L1287.7,1125.6L1289.8,1127.1L1291.8,1128.5L1293.8,1130.0L1295.8,1131.5L1297.7,1133.0L1299.7,1134.5L1301.6,1136.1L1303.5,1137.7L1305.4,1139.3L1307.2,1141.0L1309.0,1142.7L1310.8,1144.5L1312.5,1146.2L1314.2,1148.1L1315.9,1149.9L1317.6,1151.8L1319.2,1153.7L1320.8,1155.6L1322.5,1157.5L1324.1,1159.4L1325.7,1161.4L1327.3,1163.3L1328.9,1165.2L1330.5,1167.1L1332.1,1169.0L1333.8,1170.9L1335.4,1172.8L1337.1,1174.6L1338.8,1176.4L1340.5,1178.2L1342.3,1179.9L1344.0,1181.6L1345.9,1183.3L1347.7,1184.9L1349.6,1186.4L1351.5,1187.9L1353.5,1189.4L1355.6,1190.7L1357.7,1192.0L1359.8,1193.2L1362.0,1194.4L1364.3,1195.4L1366.6,1196.4L1369.0,1197.3L1371.5,1198.2L1373.9,1199.0L1376.3,1199.9L1378.8,1200.7L1381.2,1201.6L1383.5,1202.5L1385.9,1203.5L1388.1,1204.6L1390.3,1205.7L1392.4,1206.9L1394.6,1208.1L1396.7,1209.4L1398.7,1210.7L1400.8,1212.1L1402.9,1213.5L1405.0,1214.8L1407.1,1216.1L1409.3,1217.3L1411.5,1218.5L1413.7,1219.5L1416.1,1220.4L1418.4,1221.2L1420.8,1221.9L1423.2,1222.5L1425.7,1223.1L1428.1,1223.6L1430.6,1224.1L1433.1,1224.6L1435.5,1225.0L1438.0,1225.5L1440.5,1225.9L1442.9,1226.3L1445.4,1226.8L1447.9,1227.2L1450.3,1227.7L1452.8,1228.1L1455.2,1228.6L1457.6,1229.1L1460.1,1229.6L1462.5,1230.1L1464.9,1230.6L1467.3,1231.2L1469.7,1231.8L1472.1,1232.4L1474.5,1233.1L1476.9,1233.8L1479.3,1234.6L1481.6,1235.4L1484.0,1236.2L1486.3,1237.1L1488.6,1238.0L1490.9,1239.0L1493.2,1240.0L1495.5,1241.0L1497.8,1242.0L1500.1,1243.0L1502.4,1244.0L1504.8,1245.0L1507.1,1245.9L1509.4,1246.8L1511.7,1247.7L1514.1,1248.6L1516.4,1249.3L1518.8,1250.1L1521.2,1250.7L1523.6,1251.3L1526.0,1251.8L1528.4,1252.3L1530.9,1252.7L1533.3,1253.0L1535.8,1253.3L1538.2,1253.6L1540.7,1253.9L1543.2,1254.1L1545.7,1254.3L1548.2,1254.5L1550.7,1254.7L1553.2,1254.9L1555.7,1255.1L1558.2,1255.3L1560.8,1255.6L1563.3,1255.8L1565.8,1256.1L1568.3,1256.5L1570.7,1256.8L1573.2,1257.2L1575.7,1257.6L1578.2,1258.0L1580.7,1258.5L1583.2,1258.9L1585.6,1259.3L1588.1,1259.7L1590.6,1260.1L1593.1,1260.5L1595.6,1260.8L1598.0,1261.1L1600.5,1261.4L1603.0,1261.7L1605.5,1261.9L1608.0,1262.1L1610.4,1262.2L1612.9,1262.3L1615.4,1262.4L1617.9,1262.5L1620.4,1262.6L1622.9,1262.6L1625.4,1262.6L1627.8,1262.6L1630.3,1262.5L1632.8,1262.4L1635.3,1262.4L1637.8,1262.2L1640.3,1262.1L1642.8,1262.0L1645.3,1261.8L1647.8,1261.6L1650.2,1261.4L1652.7,1261.2L1655.2,1261.0L1657.7,1260.8L1660.2,1260.5L1662.7,1260.3L1665.2,1260.0L1667.7,1259.7L1670.2,1259.4L1672.7,1259.1L1675.2,1258.8L1677.6,1258.5L1680.1,1258.2L1682.6,1257.9L1685.1,1257.6L1687.6,1257.2L1690.1,1256.9L1692.6,1256.6L1695.1,1256.3L1697.6,1255.9L1700.0,1255.6L1702.5,1255.3L1705.0,1255.0L1707.5,1254.7L1710.0,1254.3L1712.5,1254.0L1714.9,1253.7L1717.4,1253.4L1719.9,1253.1L1722.4,1252.8L1724.9,1252.4L1727.4,1252.1L1729.8,1251.8L1732.3,1251.5L1734.8,1251.2L1737.3,1250.9L1739.8,1250.6L1742.2,1250.3L1744.7,1249.9L1747.2,1249.6L1749.7,1249.3L1752.1,1249.0L1754.6,1248.7L1757.1,1248.4L1759.6,1248.1L1762.0,1247.8L1764.5,1247.4L1767.0,1247.1L1769.5,1246.8L1771.9,1246.5L1774.4,1246.2L1776.9,1245.9L1779.4,1245.5L1781.8,1245.2L1784.3,1244.9L1786.8,1244.6L1789.2,1244.2L1791.7,1243.9L1794.2,1243.6L1796.6,1243.3L1799.1,1242.9L1801.6,1242.6L1804.1,1242.3L1806.5,1241.9L1809.0,1241.6L1811.5,1241.3L1813.9,1240.9L1816.4,1240.6L1818.9,1240.2L1821.3,1239.9L1823.8,1239.5L1826.3,1239.2L1828.7,1238.8L1831.2,1238.5L1833.7,1238.1L1836.1,1237.7L1838.6,1237.4L1841.1,1237.0L1843.5,1236.6L1846.0,1236.3L1848.5,1235.9L1850.9,1235.5L1853.4,1235.1L1855.8,1234.7L1858.3,1234.3L1860.8,1234.0L1863.2,1233.6L1865.7,1233.2L1868.2,1232.8L1870.6,1232.3L1873.1,1231.9L1875.5,1231.5L1878.0,1231.1L1880.5,1230.7L1882.9,1230.3L1885.4,1229.8L1887.9,1229.4L1890.3,1229.0L1892.8,1228.5L1895.2,1228.1L1897.7,1227.6L1900.2,1227.2L1902.6,1226.7L1905.1,1226.2L1907.6,1225.8L1910.0,1225.3L1912.5,1224.8L1914.9,1224.3L1917.4,1223.8L1919.9,1223.3L1922.3,1222.8L1924.8,1222.3L1927.2,1221.8L1929.7,1221.3L1932.2,1220.8L1934.6,1220.3"/>
<path stroke="#00B0F0" d="M227.4,1037.2L229.9,1037.0L232.4,1036.8L234.9,1036.5L237.4,1036.3L239.9,1036.0L242.4,1035.8L244.9,1035.6L247.4,1035.3L249.9,1035.1L252.4,1034.8L254.9,1034.6L257.4,1034.4L259.9,1034.1L262.4,1033.9L264.9,1033.6L267.4,1033.4L269.9,1033.1L272.4,1032.9L274.9,1032.6L277.4,1032.4L279.9,1032.1L282.3,1031.9L284.8,1031.6L287.3,1031.4L289.8,1031.1L292.3,1030.9L294.8,1030.6L297.3,1030.4L299.8,1030.1L302.3,1029.8L304.7,1029.6L307.2,1029.3L309.7,1029.1L312.2,1028.8L314.7,1028.5L317.2,1028.3L319.7,1028.0L322.1,1027.8L324.6,1027.5L327.1,1027.2L329.6,1027.0L332.1,1026.7L334.6,1026.5L337.0,1026.2L339.5,1025.9L342.0,1025.7L344.5,1025.4L347.0,1025.1L349.5,1024.9L351.9,1024.6L354.4,1024.3L356.9,1024.1L359.4,1023.8L361.9,1023.5L364.3,1023.3L366.8,1023.0L369.3,1022.8L371.8,1022.5L374.3,1022.2L376.7,1022.0L379.2,1021.7L381.7,1021.4L384.2,1021.2L386.6,1020.9L389.1,1020.6L391.6,1020.4L394.1,1020.1L396.6,1019.8L399.0,1019.6L401.5,1019.3L404.0,1019.0L406.5,1018.8L408.9,1018.5L411.4,1018.2L413.9,1018.0L416.4,1017.7L418.9,1017.4L421.3,1017.2L423.8,1016.9L426.3,1016.6L428.8,1016.4L431.2,1016.1L433.7,1015.8L436.2,1015.6L438.7,1015.3L441.1,1015.1L443.6,1014.8L446.1,1014.5L448.6,1014.3L451.1,1014.0L453.5,1013.7L456.0,1013.5L458.5,1013.2L461.0,1013.0L463.4,1012.7L465.9,1012.4L468.4,1012.2L470.9,1011.9L473.4,1011.7L475.8,1011.4L478.3,1011.2L480.8,1010.9L483.3,1010.7L485.8,1010.4L488.2,1010.1L490.7,1009.9L493.2,1009.6L495.7,1009.4L498.2,1009.1L500.7,1008.9L503.1,1008.6L505.6,1008.4L508.1,1008.1L510.6,1007.9L513.1,1007.7L515.5,1007.4L518.0,1007.2L520.5,1006.9L523.0,1006.7L525.5,1006.4L528.0,1006.2L530.5,1006.0L532.9,1005.7L535.4,1005.5L537.9,1005.2L540.4,1005.0L542.9,1004.8L545.4,1004.5L547.9,1004.3L550.4,1004.1L552.9,1003.8L555.3,1003.6L557.8,1003.4L560.3,1003.2L562.8,1002.9L565.3,1002.7L567.8,1002.5L570.3,1002.3L572.8,1002.0L575.3,1001.8L577.8,1001.6L580.3,1001.4L582.8,1001.2L585.3,1000.9L587.8,1000.7L590.3,1000.5L592.8,1000.3L595.3,1000.1L597.8,999.9L600.3,999.7L602.8,999.5L605.3,999.3L607.8,999.1L610.3,998.9L612.8,998.7L615.3,998.5L617.8,998.3L620.3,998.1L622.8,998.0L625.3,997.8L627.8,997.6L630.3,997.4L632.8,997.3L635.3,997.1L637.8,997.0L640.3,996.8L642.8,996.7L645.3,996.6L647.8,996.4L650.3,996.3L652.8,996.2L655.3,996.1L657.8,996.0L660.3,995.9L662.8,995.8L665.3,995.8L667.8,995.7L670.3,995.6L672.8,995.6L675.3,995.5L677.8,995.5L680.3,995.5L682.8,995.5L685.3,995.5L687.8,995.5L690.3,995.5L692.8,995.5L695.3,995.6L697.8,995.6L700.2,995.7L702.7,995.7L705.2,995.8L707.7,995.9L710.2,996.0L712.7,996.1L715.2,996.3L717.6,996.4L720.1,996.6L722.6,996.7L725.1,996.9L727.6,997.1L730.0,997.3L732.5,997.5L735.0,997.8L737.4,998.0L739.9,998.3L742.4,998.6L744.8,998.8L747.3,999.2L749.8,999.5L752.2,999.8L754.7,1000.2L757.1,1000.6L759.6,1000.9L762.0,1001.3L764.5,1001.8L766.9,1002.2L769.4,1002.7L771.8,1003.1L774.3,1003.6L776.7,1004.1L779.2,1004.6L781.6,1005.1L784.1,1005.6L786.5,1006.2L788.9,1006.7L791.4,1007.3L793.8,1007.8L796.2,1008.4L798.7,1009.0L801.1,1009.6L803.5,1010.2L806.0,1010.8L808.4,1011.4L810.8,1012.0L813.3,1012.6L815.7,1013.2L818.1,1013.9L820.6,1014.5L823.0,1015.1L825.4,1015.7L827.9,1016.4L830.3,1017.0L832.7,1017.6L835.2,1018.2L837.6,1018.9L840.1,1019.5L842.5,1020.1L844.9,1020.7L847.4,1021.3L849.8,1021.9L852.3,1022.5L854.7,1023.1L857.2,1023.7L859.6,1024.3L862.1,1024.8L864.5,1025.4L867.0,1026.0L869.4,1026.5L871.9,1027.0L874.4,1027.6L876.8,1028.1L879.3,1028.6L881.8,1029.1L884.2,1029.5L886.7,1030.0L889.2,1030.4L891.7,1030.8L894.1,1031.2L896.6,1031.5L899.1,1031.8L901.6,1032.1L904.1,1032.3L906.5,1032.5L909.0,1032.7L911.5,1032.8L914.0,1032.8L916.5,1032.8L919.0,1032.7L921.4,1032.6L923.9,1032.4L926.4,1032.1L928.9,1031.8L931.4,1031.6L933.9,1031.3L936.3,1031.1L938.8,1030.9L941.4,1030.7L943.9,1030.6L946.4,1030.6L948.9,1030.5L951.4,1030.4L954.0,1030.3L956.5,1030.1L959.0,1029.8L961.4,1029.3L963.8,1028.7L966.1,1027.9L968.4,1026.9L970.6,1025.7L972.7,1024.5L974.8,1023.1L976.7,1021.6L978.6,1020.0L980.5,1018.3L982.2,1016.6L983.9,1014.8L985.5,1013.0L987.1,1011.1L988.5,1009.1L990.0,1007.1L991.3,1005.0L992.6,1002.9L993.9,1000.7L995.1,998.5L996.2,996.3L997.3,994.0L998.4,991.8L999.4,989.4L1000.3,987.1L1001.3,984.8L1002.2,982.4L1003.1,980.0L1003.9,977.6L1004.7,975.2L1005.5,972.8L1006.3,970.4L1007.0,968.0L1007.8,965.6L1008.5,963.2L1009.1,960.8L1009.8,958.4L1010.5,956.0L1011.1,953.5L1011.7,951.1L1012.3,948.7L1012.8,946.3L1013.4,943.8L1013.9,941.4L1014.5,939.0L1015.0,936.5L1015.5,934.1L1016.0,931.7L1016.4,929.2L1016.9,926.8L1017.4,924.3L1017.8,921.9L1018.2,919.4L1018.6,917.0L1019.1,914.5L1019.5,912.1L1019.9,909.6L1020.3,907.2L1020.6,904.7L1021.0,902.2L1021.4,899.8L1021.7,897.3L1022.1,894.9L1022.4,892.4L1022.8,889.9L1023.1,887.5L1023.5,885.0L1023.8,882.5L1024.1,880.1L1024.4,877.6L1024.7,875.1L1025.0,872.7L1025.3,870.2L1025.6,867.7L1025.9,865.2L1026.1,862.8L1026.4,860.3L1026.7,857.8L1026.9,855.3L1027.2,852.8L1027.5,850.4L1027.7,847.9L1027.9,845.4L1028.2,842.9L1028.4,840.4L1028.7,837.9L1028.9,835.4L1029.1,833.0L1029.3,830.5L1029.5,828.0L1029.7,825.5L1030.0,823.0L1030.2,820.5L1030.4,818.0L1030.6,815.5L1030.8,813.0L1031.0,810.5L1031.1,808.1L1031.3,805.6L1031.5,803.1L1031.7,800.6L1031.9,798.1L1032.1,795.6L1032.2,793.1L1032.4,790.6L1032.6,788.1L1032.8,785.6L1032.9,783.1L1033.1,780.6L1033.3,778.1L1033.4,775.6L1033.6,773.1L1033.8,770.6L1033.9,768.1L1034.1,765.6L1034.2,763.1L1034.4,760.6L1034.6,758.1L1034.7,755.6L1034.9,753.1L1035.1,750.6L1035.2,748.1L1035.4,745.6L1035.5,743.1L1035.7,740.6L1035.9,738.1L1036.0,735.6L1036.2,733.1L1036.4,730.6L1036.5,728.1L1036.7,725.6L1036.9,723.1L1037.1,720.6L1037.2,718.1L1037.4,715.6L1037.6,713.1L1037.8,710.7L1037.9,708.2L1038.1,705.7L1038.3,703.2L1038.5,700.7L1038.7,698.2L1038.9,695.7L1039.1,693.2L1039.2,690.7L1039.4,688.2L1039.6,685.7L1039.8,683.2L1040.0,680.7L1040.2,678.2L1040.4,675.7L1040.6,673.2L1040.8,670.7L1041.0,668.3L1041.2,665.8L1041.4,663.3L1041.6,660.8L1041.8,658.3L1042.0,655.8L1042.2,653.3L1042.4,650.8L1042.6,648.3L1042.8,645.8L1043.1,643.3L1043.3,640.9L1043.5,638.4L1043.7,635.9L1043.9,633.4L1044.1,630.9L1044.3,628.4L1044.5,625.9L1044.7,623.4L1044.9,620.9L1045.1,618.5L1045.4,616.0L1045.6,613.5L1045.8,611.0L1046.0,608.5L1046.2,606.0L1046.4,603.5L1046.6,601.1L1046.8,598.6L1047.0,596.1L1047.2,593.6L1047.4,591.1L1047.7,588.6L1047.9,586.1L1048.1,583.6L1048.3,581.2L1048.5,578.7L1048.7,576.2L1048.9,573.7L1049.1,571.2L1049.3,568.7L1049.5,566.3L1049.7,563.8L1049.9,561.3L1050.1,558.8L1050.3,556.3L1050.5,553.8L1050.7,551.4L1050.9,548.9L1051.1,546.4L1051.3,543.9L1051.5,541.4L1051.7,538.9L1051.9,536.4L1052.1,534.0L1052.2,531.5L1052.4,529.0L1052.6,526.5L1052.8,524.0L1053.0,521.5L1053.2,519.1L1053.4,516.6L1053.6,514.1L1053.8,511.6L1053.9,509.1L1054.1,506.6L1054.3,504.2L1054.5,501.7L1054.7,499.2L1054.9,496.7L1055.0,494.2L1055.2,491.7L1055.4,489.2L1055.6,486.8L1055.8,484.3L1056.0,481.8L1056.1,479.3L1056.3,476.8L1056.5,474.3L1056.7,471.8L1056.9,469.3L1057.1,466.9L1057.2,464.4L1057.4,461.9L1057.6,459.4L1057.8,456.9L1058.0,454.4L1058.2,451.9L1058.3,449.4L1058.5,446.9L1058.7,444.4L1058.9,441.9L1059.1,439.4L1059.2,436.9L1059.4,434.4L1059.6,432.0L1059.8,429.5L1060.0,427.0L1060.2,424.5L1060.4,422.0L1060.5,419.5L1060.7,417.0L1060.9,414.5L1061.1,412.0L1061.3,409.5L1061.5,407.0L1061.7,404.4L1061.9,401.9L1062.0,399.4L1062.2,396.9L1062.4,394.4L1062.6,391.9L1062.8,389.4L1063.0,386.9L1063.2,384.4L1063.4,381.9L1063.6,379.4L1063.8,376.9L1064.0,374.3L1064.2,371.8L1064.4,369.3L1064.6,366.8L1064.8,364.3L1065.0,361.8L1065.2,359.3L1065.5,356.8L1065.7,354.3L1065.9,351.8L1066.2,349.3L1066.4,346.9L1066.6,344.4L1066.9,341.9L1067.1,339.5L1067.4,337.0L1067.7,334.5L1067.9,332.1L1068.2,329.7L1068.5,327.2L1068.8,324.8L1069.1,322.4L1069.4,320.0L1069.8,317.6L1070.1,315.2L1070.4,312.8L1070.8,310.4L1071.1,308.1L1071.5,305.7L1071.8,303.3L1072.2,300.9L1072.5,298.4L1072.9,296.0L1073.3,293.6L1073.6,291.1L1074.0,288.6L1074.4,286.1L1074.8,283.5L1075.2,280.8L1075.7,278.0L1076.1,275.1L1076.6,272.0L1077.2,268.8L1077.8,265.8L1078.4,263.0L1079.1,260.8L1079.8,259.3L1080.6,258.7L1081.4,259.1L1082.3,260.4L1083.2,262.5L1084.0,265.1L1084.9,268.1L1085.7,271.3L1086.4,274.4L1087.1,277.5L1087.7,280.4L1088.2,283.2L1088.7,286.0L1089.1,288.6L1089.5,291.2L1089.8,293.7L1090.1,296.2L1090.4,298.6L1090.7,301.0L1090.9,303.4L1091.1,305.7L1091.4,308.1L1091.6,310.4L1091.8,312.8L1092.0,315.2L1092.2,317.5L1092.4,319.9L1092.6,322.3L1092.9,324.7L1093.1,327.1L1093.3,329.5L1093.5,331.9L1093.7,334.3L1093.9,336.8L1094.1,339.2L1094.3,341.6L1094.5,344.1L1094.7,346.5L1094.9,349.0L1095.1,351.4L1095.3,353.9L1095.5,356.4L1095.6,358.8L1095.8,361.3L1096.0,363.8L1096.2,366.3L1096.4,368.7L1096.6,371.2L1096.8,373.7L1097.0,376.2L1097.2,378.7L1097.4,381.2L1097.6,383.7L1097.7,386.2L1097.9,388.7L1098.1,391.2L1098.3,393.7L1098.5,396.2L1098.7,398.7L1098.9,401.3L1099.1,403.8L1099.3,406.3L1099.5,408.8L1099.7,411.3L1099.8,413.8L1100.0,416.3L1100.2,418.9L1100.4,421.4L1100.6,423.9L1100.8,426.4L1101.0,428.9L1101.2,431.4L1101.4,434.0L1101.6,436.5L1101.8,439.0L1102.0,441.5L1102.2,444.0L1102.4,446.5L1102.6,449.0L1102.8,451.5L1103.0,454.0L1103.2,456.5L1103.5,459.0L1103.7,461.5L1103.9,464.0L1104.1,466.5L1104.3,469.0L1104.5,471.5L1104.7,474.0L1104.9,476.5L1105.2,479.0L1105.4,481.5L1105.6,484.0L1105.8,486.5L1106.0,489.0L1106.2,491.5L1106.5,494.0L1106.7,496.5L1106.9,499.0L1107.1,501.5L1107.4,504.0L1107.6,506.5L1107.8,509.0L1108.0,511.5L1108.3,514.0L1108.5,516.4L1108.7,518.9L1108.9,521.4L1109.2,523.9L1109.4,526.4L1109.6,528.9L1109.9,531.4L1110.1,533.9L1110.3,536.3L1110.6,538.8L1110.8,541.3L1111.0,543.8L1111.3,546.3L1111.5,548.8L1111.7,551.2L1112.0,553.7L1112.2,556.2L1112.4,558.7L1112.7,561.2L1112.9,563.7L1113.1,566.1L1113.4,568.6L1113.6,571.1L1113.9,573.6L1114.1,576.1L1114.4,578.5L1114.6,581.0L1114.8,583.5L1115.1,586.0L1115.3,588.4L1115.6,590.9L1115.8,593.4L1116.1,595.9L1116.3,598.4L1116.5,600.8L1116.8,603.3L1117.0,605.8L1117.3,608.3L1117.5,610.7L1117.8,613.2L1118.0,615.7L1118.3,618.2L1118.5,620.6L1118.8,623.1L1119.0,625.6L1119.3,628.1L1119.5,630.5L1119.8,633.0L1120.0,635.5L1120.3,638.0L1120.5,640.4L1120.8,642.9L1121.0,645.4L1121.3,647.9L1121.5,650.3L1121.8,652.8L1122.0,655.3L1122.3,657.8L1122.5,660.2L1122.8,662.7L1123.0,665.2L1123.3,667.7L1123.6,670.2L1123.8,672.6L1124.1,675.1L1124.3,677.6L1124.6,680.1L1124.8,682.6L1125.1,685.1L1125.3,687.6L1125.6,690.0L1125.8,692.5L1126.1,695.0L1126.3,697.5L1126.5,700.0L1126.8,702.5L1127.0,705.0L1127.3,707.5L1127.5,710.0L1127.8,712.5L1128.0,715.0L1128.3,717.5L1128.5,720.0L1128.7,722.5L1129.0,725.0L1129.2,727.5L1129.5,730.1L1129.7,732.6L1129.9,735.1L1130.2,737.6L1130.4,740.1L1130.6,742.7L1130.9,745.2L1131.1,747.7L1131.3,750.3L1131.6,752.8L1131.8,755.3L1132.0,757.9L1132.2,760.4L1132.5,763.0L1132.7,765.5L1133.0,768.0L1133.3,770.5L1133.6,773.0L1134.0,775.5L1134.4,778.0L1134.9,780.4L1135.4,782.8L1135.9,785.2L1136.6,787.6L1137.3,789.9L1138.1,792.1L1139.0,794.4L1139.9,796.5L1141.0,798.7L1142.1,800.7L1143.4,802.8L1144.8,804.7L1146.2,806.7L1147.7,808.6L1149.3,810.4L1150.9,812.3L1152.6,814.1L1154.4,815.9L1156.1,817.7L1157.9,819.5L1159.7,821.2L1161.5,823.0L1163.3,824.8L1165.1,826.6L1166.8,828.4L1168.6,830.2L1170.3,832.0L1172.0,833.9L1173.7,835.8L1175.3,837.6L1176.9,839.6L1178.5,841.5L1180.0,843.4L1181.4,845.4L1182.9,847.4L1184.2,849.5L1185.5,851.6L1186.8,853.6L1188.0,855.8L1189.2,857.9L1190.3,860.1L1191.4,862.3L1192.4,864.5L1193.4,866.8L1194.3,869.0L1195.2,871.3L1196.1,873.6L1196.9,875.9L1197.8,878.3L1198.5,880.6L1199.3,883.0L1200.0,885.3L1200.7,887.7L1201.4,890.1L1202.1,892.6L1202.7,895.0L1203.4,897.4L1204.0,899.8L1204.6,902.3L1205.2,904.7L1205.8,907.2L1206.3,909.6L1206.9,912.1L1207.5,914.6L1208.0,917.0L1208.6,919.5L1209.2,921.9L1209.8,924.4L1210.3,926.9L1210.9,929.3L1211.5,931.7L1212.1,934.2L1212.8,936.6L1213.4,939.0L1214.0,941.4L1214.7,943.8L1215.3,946.2L1216.0,948.6L1216.7,951.0L1217.4,953.4L1218.1,955.8L1218.8,958.2L1219.5,960.6L1220.2,963.0L1220.9,965.3L1221.6,967.7L1222.4,970.1L1223.1,972.5L1223.9,974.8L1224.6,977.2L1225.4,979.6L1226.1,981.9L1226.9,984.3L1227.7,986.7L1228.4,989.0L1229.2,991.4L1230.0,993.8L1230.8,996.1L1231.6,998.5L1232.3,1000.9L1233.1,1003.2L1233.9,1005.6L1234.7,1008.0L1235.5,1010.3L1236.3,1012.7L1237.1,1015.1L1237.9,1017.5L1238.7,1019.8L1239.5,1022.2L1240.4,1024.6L1241.2,1026.9L1242.0,1029.3L1242.9,1031.7L1243.7,1034.0L1244.6,1036.4L1245.4,1038.7L1246.3,1041.1L1247.2,1043.5L1248.1,1045.8L1249.0,1048.1L1249.9,1050.5L1250.8,1052.8L1251.7,1055.1L1252.7,1057.5L1253.6,1059.8L1254.6,1062.1L1255.5,1064.4L1256.5,1066.7L1257.5,1069.0L1258.5,1071.3L1259.6,1073.5L1260.6,1075.8L1261.7,1078.1L1262.7,1080.3L1263.8,1082.6L1264.9,1084.8L1266.1,1087.0L1267.2,1089.3L1268.3,1091.5L1269.5,1093.7L1270.7,1095.9L1271.9,1098.0L1273.2,1100.2L1274.4,1102.3L1275.7,1104.4L1277.0,1106.5L1278.4,1108.6L1279.8,1110.6L1281.2,1112.6L1282.7,1114.6L1284.2,1116.5L1285.7,1118.5L1287.3,1120.3L1289.0,1122.2L1290.7,1124.0L1292.4,1125.8L1294.2,1127.5L1296.0,1129.1L1297.9,1130.8L1299.9,1132.4L1301.8,1133.9L1303.9,1135.4L1305.9,1136.9L1308.0,1138.4L1310.1,1139.8L1312.2,1141.3L1314.2,1142.8L1316.3,1144.2L1318.3,1145.7L1320.3,1147.2L1322.2,1148.8L1324.1,1150.4L1326.0,1152.0L1327.7,1153.6L1329.4,1155.4L1331.1,1157.1L1332.7,1159.0L1334.2,1160.9L1335.7,1162.8L1337.2,1164.8L1338.6,1166.9L1339.9,1169.0L1341.3,1171.2L1342.6,1173.4L1343.9,1175.6L1345.2,1177.9L1346.5,1180.1L1347.8,1182.4L1349.1,1184.6L1350.4,1186.9L1351.8,1189.1L1353.1,1191.3L1354.6,1193.4L1356.0,1195.5L1357.5,1197.5L1359.1,1199.4L1360.7,1201.3L1362.4,1203.1L1364.1,1204.8L1365.9,1206.4L1367.8,1208.0L1369.7,1209.5L1371.6,1211.0L1373.6,1212.3L1375.6,1213.7L1377.7,1215.0L1379.8,1216.2L1381.9,1217.4L1384.1,1218.6L1386.3,1219.7L1388.5,1220.7L1390.8,1221.8L1393.0,1222.8L1395.3,1223.8L1397.7,1224.7L1400.0,1225.7L1402.3,1226.6L1404.7,1227.5L1407.0,1228.3L1409.4,1229.2L1411.8,1230.1L1414.1,1230.9L1416.5,1231.8L1418.9,1232.7L1421.2,1233.5L1423.6,1234.4L1425.9,1235.2L1428.3,1236.1L1430.6,1236.9L1433.0,1237.8L1435.3,1238.6L1437.7,1239.5L1440.0,1240.3L1442.3,1241.2L1444.7,1242.0L1447.0,1242.8L1449.4,1243.6L1451.7,1244.3L1454.1,1245.1L1456.5,1245.8L1458.8,1246.6L1461.2,1247.3L1463.6,1248.0L1466.0,1248.6L1468.4,1249.3L1470.8,1249.9L1473.2,1250.5L1475.6,1251.1L1478.1,1251.6L1480.5,1252.2L1482.9,1252.7L1485.4,1253.2L1487.8,1253.7L1490.3,1254.2L1492.8,1254.6L1495.2,1255.1L1497.7,1255.5L1500.1,1255.9L1502.6,1256.3L1505.1,1256.8L1507.5,1257.1L1510.0,1257.5L1512.5,1257.9L1514.9,1258.3L1517.4,1258.6L1519.9,1259.0L1522.3,1259.3L1524.8,1259.7L1527.3,1260.0L1529.8,1260.3L1532.2,1260.7L1534.7,1261.0L1537.2,1261.3L1539.6,1261.6L1542.1,1261.9L1544.6,1262.2L1547.1,1262.5L1549.5,1262.7L1552.0,1263.0L1554.5,1263.3L1557.0,1263.5L1559.4,1263.8L1561.9,1264.1L1564.4,1264.3L1566.9,1264.6L1569.4,1264.8L1571.9,1265.0L1574.3,1265.3L1576.8,1265.5L1579.3,1265.8L1581.8,1266.0L1584.3,1266.2L1586.8,1266.4L1589.3,1266.7L1591.8,1266.9L1594.3,1267.1L1596.8,1267.3L1599.3,1267.5L1601.8,1267.7L1604.3,1267.8L1606.8,1268.0L1609.3,1268.2L1611.8,1268.3L1614.3,1268.4L1616.7,1268.5L1619.2,1268.6L1621.7,1268.7L1624.2,1268.8L1626.7,1268.8L1629.2,1268.9L1631.7,1268.9L1634.2,1268.9L1636.7,1268.8L1639.2,1268.8L1641.7,1268.7L1644.2,1268.6L1646.7,1268.5L1649.2,1268.3L1651.7,1268.2L1654.1,1268.0L1656.6,1267.7L1659.1,1267.5L1661.6,1267.2L1664.1,1266.9L1666.5,1266.5L1669.0,1266.2L1671.5,1265.8L1673.9,1265.4L1676.4,1265.0L1678.9,1264.5L1681.4,1264.1L1683.8,1263.6L1686.3,1263.2L1688.7,1262.7L1691.2,1262.2L1693.7,1261.8L1696.1,1261.3L1698.6,1260.9L1701.1,1260.4L1703.5,1260.0L1706.0,1259.5L1708.4,1259.1L1710.9,1258.7L1713.4,1258.2L1715.8,1257.8L1718.3,1257.4L1720.8,1257.0L1723.2,1256.6L1725.7,1256.2L1728.1,1255.8L1730.6,1255.4L1733.1,1255.0L1735.5,1254.6L1738.0,1254.2L1740.5,1253.8L1742.9,1253.4L1745.4,1253.0L1747.8,1252.6L1750.3,1252.2L1752.8,1251.9L1755.2,1251.5L1757.7,1251.1L1760.1,1250.7L1762.6,1250.3L1765.1,1249.9L1767.5,1249.5L1770.0,1249.1L1772.4,1248.7L1774.9,1248.3L1777.4,1247.9L1779.8,1247.4L1782.3,1247.0L1784.8,1246.6L1787.2,1246.2L1789.7,1245.8L1792.1,1245.3L1794.6,1244.9L1797.1,1244.5L1799.5,1244.0L1802.0,1243.6L1804.4,1243.1L1806.9,1242.7L1809.3,1242.2L1811.8,1241.8L1814.3,1241.3L1816.7,1240.9L1819.2,1240.4L1821.6,1240.0L1824.1,1239.5L1826.6,1239.0L1829.0,1238.6L1831.5,1238.1L1833.9,1237.6L1836.4,1237.2L1838.8,1236.7L1841.3,1236.2L1843.8,1235.8L1846.2,1235.3L1848.7,1234.8L1851.1,1234.3L1853.6,1233.9L1856.0,1233.4L1858.5,1232.9L1861.0,1232.4L1863.4,1232.0L1865.9,1231.5L1868.3,1231.0L1870.8,1230.5L1873.2,1230.0L1875.7,1229.6L1878.1,1229.1L1880.6,1228.6L1883.1,1228.1L1885.5,1227.6L1888.0,1227.2L1890.4,1226.7L1892.9,1226.2L1895.3,1225.7L1897.8,1225.2L1900.2,1224.8L1902.7,1224.3L1905.1,1223.8L1907.6,1223.3L1910.0,1222.9L1912.5,1222.4L1914.9,1221.9L1917.4,1221.5L1919.8,1221.0L1922.3,1220.5L1924.7,1220.1L1927.2,1219.6L1929.6,1219.1L1932.1,1218.7L1934.5,1218.2"/>
<path stroke="#00B050" d="M227.5,1037.3L230.0,1037.2L232.5,1037.0L235.0,1036.9L237.5,1036.7L240.0,1036.6L242.4,1036.4L244.9,1036.2L247.4,1036.1L249.9,1035.9L252.4,1035.7L254.9,1035.6L257.4,1035.4L259.8,1035.2L262.3,1035.0L264.8,1034.8L267.3,1034.6L269.8,1034.4L272.3,1034.2L274.7,1034.0L277.2,1033.8L279.7,1033.6L282.2,1033.4L284.7,1033.2L287.2,1033.0L289.7,1032.7L292.1,1032.5L294.6,1032.3L297.1,1032.1L299.6,1031.8L302.1,1031.6L304.6,1031.3L307.1,1031.1L309.5,1030.9L312.0,1030.6L314.5,1030.4L317.0,1030.1L319.5,1029.9L322.0,1029.6L324.4,1029.4L326.9,1029.1L329.4,1028.8L331.9,1028.6L334.4,1028.3L336.9,1028.1L339.4,1027.8L341.8,1027.5L344.3,1027.2L346.8,1027.0L349.3,1026.7L351.8,1026.4L354.3,1026.1L356.8,1025.9L359.3,1025.6L361.7,1025.3L364.2,1025.0L366.7,1024.7L369.2,1024.5L371.7,1024.2L374.2,1023.9L376.7,1023.6L379.1,1023.3L381.6,1023.0L384.1,1022.7L386.6,1022.4L389.1,1022.1L391.6,1021.8L394.1,1021.6L396.5,1021.3L399.0,1021.0L401.5,1020.7L404.0,1020.4L406.5,1020.1L409.0,1019.8L411.5,1019.5L414.0,1019.2L416.4,1018.9L418.9,1018.6L421.4,1018.3L423.9,1018.0L426.4,1017.7L428.9,1017.4L431.4,1017.1L433.9,1016.8L436.3,1016.5L438.8,1016.2L441.3,1015.9L443.8,1015.6L446.3,1015.3L448.8,1015.1L451.3,1014.8L453.8,1014.5L456.2,1014.2L458.7,1013.9L461.2,1013.6L463.7,1013.3L466.2,1013.0L468.7,1012.7L471.2,1012.4L473.7,1012.2L476.2,1011.9L478.6,1011.6L481.1,1011.3L483.6,1011.0L486.1,1010.8L488.6,1010.5L491.1,1010.2L493.6,1009.9L496.1,1009.7L498.6,1009.4L501.0,1009.1L503.5,1008.8L506.0,1008.6L508.5,1008.3L511.0,1008.1L513.5,1007.8L516.0,1007.5L518.5,1007.3L521.0,1007.0L523.5,1006.8L525.9,1006.5L528.4,1006.3L530.9,1006.0L533.4,1005.8L535.9,1005.5L538.4,1005.3L540.9,1005.1L543.4,1004.8L545.9,1004.6L548.4,1004.4L550.9,1004.2L553.3,1003.9L555.8,1003.7L558.3,1003.5L560.8,1003.3L563.3,1003.1L565.8,1002.9L568.3,1002.7L570.8,1002.5L573.3,1002.3L575.8,1002.1L578.3,1001.9L580.7,1001.7L583.2,1001.5L585.7,1001.3L588.2,1001.2L590.7,1001.0L593.2,1000.8L595.7,1000.6L598.2,1000.5L600.7,1000.3L603.2,1000.2L605.7,1000.0L608.2,999.9L610.7,999.7L613.1,999.6L615.6,999.5L618.1,999.3L620.6,999.2L623.1,999.1L625.6,999.0L628.1,998.8L630.6,998.7L633.1,998.6L635.6,998.5L638.1,998.4L640.6,998.3L643.1,998.3L645.6,998.2L648.1,998.1L650.6,998.0L653.0,998.0L655.5,997.9L658.0,997.8L660.5,997.8L663.0,997.8L665.5,997.7L668.0,997.7L670.5,997.6L673.0,997.6L675.5,997.6L678.0,997.6L680.5,997.6L683.0,997.6L685.5,997.6L688.0,997.6L690.5,997.6L693.0,997.6L695.5,997.6L698.0,997.7L700.5,997.7L702.9,997.8L705.4,997.8L707.9,997.9L710.4,997.9L712.9,998.0L715.4,998.1L717.9,998.1L720.4,998.2L722.9,998.3L725.4,998.4L727.9,998.5L730.4,998.6L732.9,998.8L735.4,998.9L737.9,999.0L740.4,999.2L742.9,999.4L745.4,999.5L747.9,999.7L750.4,999.9L752.9,1000.1L755.3,1000.3L757.8,1000.5L760.3,1000.8L762.8,1001.0L765.3,1001.3L767.8,1001.6L770.2,1001.9L772.7,1002.2L775.2,1002.5L777.7,1002.9L780.1,1003.2L782.6,1003.6L785.1,1004.0L787.5,1004.4L790.0,1004.8L792.4,1005.3L794.9,1005.8L797.4,1006.2L799.8,1006.8L802.2,1007.3L804.7,1007.8L807.1,1008.4L809.6,1009.0L812.0,1009.6L814.4,1010.2L816.9,1010.8L819.3,1011.4L821.7,1012.1L824.1,1012.7L826.6,1013.4L829.0,1014.0L831.4,1014.7L833.8,1015.3L836.3,1016.0L838.7,1016.7L841.1,1017.3L843.5,1018.0L845.9,1018.7L848.4,1019.3L850.8,1020.0L853.2,1020.6L855.7,1021.2L858.1,1021.8L860.5,1022.4L862.9,1023.0L865.4,1023.6L867.8,1024.1L870.3,1024.7L872.7,1025.2L875.2,1025.7L877.6,1026.2L880.1,1026.6L882.5,1027.0L885.0,1027.4L887.5,1027.8L889.9,1028.2L892.4,1028.5L894.9,1028.8L897.4,1029.1L899.9,1029.4L902.3,1029.7L904.8,1030.0L907.3,1030.2L909.8,1030.4L912.3,1030.7L914.8,1030.9L917.3,1031.1L919.8,1031.3L922.3,1031.5L924.8,1031.7L927.3,1031.9L929.8,1032.1L932.3,1032.3L934.8,1032.5L937.3,1032.6L939.8,1032.8L942.3,1033.1L944.8,1033.3L947.3,1033.5L949.8,1033.7L952.2,1033.9L954.7,1034.2L957.2,1034.5L959.7,1034.7L962.2,1035.0L964.7,1035.3L967.1,1035.6L969.6,1035.9L972.1,1036.2L974.6,1036.4L977.1,1036.7L979.5,1036.9L982.0,1037.0L984.5,1037.1L987.0,1037.2L989.5,1037.2L992.0,1037.1L994.6,1036.9L997.1,1036.7L999.6,1036.3L1002.0,1035.9L1004.4,1035.3L1006.8,1034.7L1009.2,1034.0L1011.4,1033.1L1013.7,1032.1L1015.8,1031.0L1017.8,1029.7L1019.8,1028.3L1021.7,1026.8L1023.4,1025.1L1025.1,1023.3L1026.7,1021.4L1028.2,1019.4L1029.6,1017.3L1030.9,1015.1L1032.2,1012.9L1033.4,1010.6L1034.6,1008.3L1035.7,1005.9L1036.7,1003.5L1037.7,1001.2L1038.7,998.8L1039.6,996.4L1040.5,994.1L1041.3,991.7L1042.1,989.4L1042.9,987.0L1043.6,984.7L1044.4,982.3L1045.1,979.9L1045.7,977.6L1046.4,975.2L1047.0,972.8L1047.6,970.4L1048.2,968.0L1048.8,965.6L1049.4,963.2L1049.9,960.8L1050.4,958.3L1051.0,955.9L1051.4,953.5L1051.9,951.0L1052.4,948.6L1052.8,946.1L1053.3,943.7L1053.7,941.2L1054.1,938.7L1054.5,936.3L1054.9,933.8L1055.3,931.3L1055.7,928.9L1056.1,926.4L1056.4,923.9L1056.8,921.4L1057.1,918.9L1057.5,916.4L1057.8,913.9L1058.1,911.5L1058.5,909.0L1058.8,906.5L1059.1,904.0L1059.5,901.5L1059.8,899.0L1060.1,896.5L1060.4,894.0L1060.8,891.5L1061.1,889.1L1061.4,886.6L1061.7,884.1L1062.1,881.6L1062.4,879.1L1062.7,876.6L1063.1,874.2L1063.4,871.7L1063.7,869.2L1064.0,866.7L1064.4,864.2L1064.7,861.8L1065.0,859.3L1065.4,856.8L1065.7,854.3L1066.0,851.9L1066.3,849.4L1066.7,846.9L1067.0,844.4L1067.3,842.0L1067.6,839.5L1068.0,837.0L1068.3,834.5L1068.6,832.1L1068.9,829.6L1069.2,827.1L1069.5,824.6L1069.8,822.2L1070.2,819.7L1070.5,817.2L1070.8,814.7L1071.1,812.3L1071.4,809.8L1071.6,807.3L1071.9,804.8L1072.2,802.3L1072.5,799.9L1072.8,797.4L1073.1,794.9L1073.4,792.4L1073.7,789.9L1073.9,787.5L1074.2,785.0L1074.5,782.5L1074.8,780.0L1075.0,777.5L1075.3,775.0L1075.6,772.6L1075.8,770.1L1076.1,767.6L1076.3,765.1L1076.6,762.6L1076.9,760.1L1077.1,757.6L1077.4,755.2L1077.6,752.7L1077.9,750.2L1078.1,747.7L1078.4,745.2L1078.6,742.7L1078.9,740.2L1079.1,737.8L1079.4,735.3L1079.6,732.8L1079.9,730.3L1080.1,727.8L1080.4,725.3L1080.6,722.8L1080.8,720.3L1081.1,717.8L1081.3,715.4L1081.5,712.9L1081.8,710.4L1082.0,707.9L1082.3,705.4L1082.5,702.9L1082.7,700.4L1083.0,697.9L1083.2,695.4L1083.4,693.0L1083.7,690.5L1083.9,688.0L1084.1,685.5L1084.3,683.0L1084.6,680.5L1084.8,678.0L1085.0,675.5L1085.3,673.0L1085.5,670.5L1085.7,668.1L1086.0,665.6L1086.2,663.1L1086.4,660.6L1086.7,658.1L1086.9,655.6L1087.1,653.1L1087.3,650.6L1087.6,648.1L1087.8,645.7L1088.0,643.2L1088.3,640.7L1088.5,638.2L1088.7,635.7L1089.0,633.2L1089.2,630.7L1089.4,628.2L1089.7,625.7L1089.9,623.3L1090.2,620.8L1090.4,618.3L1090.6,615.8L1090.9,613.3L1091.1,610.8L1091.4,608.3L1091.6,605.9L1091.8,603.4L1092.1,600.9L1092.3,598.4L1092.6,595.9L1092.8,593.4L1093.1,590.9L1093.3,588.5L1093.6,586.0L1093.8,583.5L1094.1,581.0L1094.3,578.5L1094.6,576.0L1094.9,573.6L1095.1,571.1L1095.4,568.6L1095.6,566.1L1095.9,563.6L1096.2,561.2L1096.4,558.7L1096.7,556.2L1097.0,553.7L1097.3,551.2L1097.5,548.8L1097.8,546.3L1098.1,543.8L1098.4,541.3L1098.7,538.8L1099.0,536.4L1099.3,533.9L1099.6,531.4L1099.9,528.9L1100.2,526.4L1100.6,523.9L1100.9,521.4L1101.3,518.9L1101.6,516.4L1102.0,513.9L1102.3,511.4L1102.7,508.9L1103.1,506.4L1103.5,503.9L1103.9,501.4L1104.3,499.1L1104.6,496.8L1105.0,494.6L1105.3,492.3L1105.6,490.1L1106.0,487.7L1106.3,485.2L1106.7,482.5L1107.1,479.8L1107.6,477.0L1108.3,474.2L1109.3,471.5L1110.5,469.1L1111.9,467.6L1113.6,467.3L1115.6,468.3L1117.5,470.1L1119.5,472.3L1121.2,474.7L1122.7,477.0L1124.0,479.3L1125.2,481.6L1126.3,483.9L1127.3,486.2L1128.2,488.5L1129.2,490.8L1130.0,493.1L1130.9,495.4L1131.7,497.7L1132.5,500.1L1133.2,502.4L1133.9,504.8L1134.6,507.1L1135.3,509.5L1135.9,511.9L1136.4,514.3L1137.0,516.7L1137.5,519.1L1138.0,521.6L1138.5,524.0L1139.0,526.4L1139.4,528.9L1139.8,531.3L1140.2,533.8L1140.6,536.3L1140.9,538.8L1141.2,541.2L1141.6,543.7L1141.9,546.2L1142.2,548.7L1142.5,551.2L1142.7,553.7L1143.0,556.2L1143.3,558.7L1143.5,561.2L1143.8,563.7L1144.0,566.2L1144.3,568.7L1144.5,571.2L1144.8,573.7L1145.0,576.2L1145.3,578.7L1145.5,581.2L1145.8,583.7L1146.0,586.1L1146.3,588.6L1146.5,591.1L1146.8,593.6L1147.0,596.1L1147.3,598.6L1147.5,601.1L1147.7,603.6L1148.0,606.1L1148.2,608.5L1148.5,611.0L1148.7,613.5L1148.9,616.0L1149.2,618.5L1149.4,621.0L1149.7,623.4L1149.9,625.9L1150.2,628.4L1150.4,630.9L1150.6,633.4L1150.9,635.8L1151.1,638.3L1151.4,640.8L1151.6,643.3L1151.8,645.8L1152.1,648.2L1152.3,650.7L1152.6,653.2L1152.8,655.7L1153.1,658.2L1153.3,660.6L1153.5,663.1L1153.8,665.6L1154.0,668.1L1154.3,670.6L1154.5,673.0L1154.8,675.5L1155.0,678.0L1155.3,680.5L1155.5,683.0L1155.8,685.5L1156.0,687.9L1156.3,690.4L1156.5,692.9L1156.8,695.4L1157.0,697.9L1157.3,700.4L1157.5,702.8L1157.8,705.3L1158.0,707.8L1158.3,710.3L1158.5,712.8L1158.8,715.3L1159.0,717.8L1159.3,720.3L1159.6,722.8L1159.8,725.3L1160.1,727.8L1160.3,730.2L1160.6,732.7L1160.9,735.2L1161.1,737.7L1161.4,740.2L1161.7,742.7L1162.0,745.2L1162.2,747.7L1162.5,750.2L1162.8,752.7L1163.1,755.2L1163.4,757.7L1163.7,760.2L1164.0,762.7L1164.3,765.2L1164.6,767.7L1165.0,770.2L1165.3,772.6L1165.6,775.1L1166.0,777.6L1166.3,780.1L1166.7,782.6L1167.1,785.0L1167.5,787.5L1167.9,790.0L1168.3,792.4L1168.7,794.9L1169.1,797.3L1169.5,799.8L1170.0,802.2L1170.4,804.7L1170.9,807.1L1171.4,809.5L1171.9,812.0L1172.4,814.4L1172.9,816.8L1173.4,819.2L1174.0,821.7L1174.5,824.1L1175.1,826.5L1175.6,828.9L1176.2,831.3L1176.7,833.7L1177.3,836.1L1177.8,838.6L1178.4,841.0L1178.9,843.4L1179.5,845.9L1180.0,848.3L1180.6,850.8L1181.1,853.2L1181.6,855.7L1182.1,858.1L1182.6,860.6L1183.1,863.1L1183.6,865.6L1184.1,868.1L1184.5,870.7L1185.0,873.2L1185.4,875.8L1185.8,878.3L1186.3,880.9L1186.7,883.4L1187.2,885.9L1187.8,888.4L1188.5,890.9L1189.2,893.3L1190.1,895.6L1191.1,897.9L1192.2,900.1L1193.5,902.2L1195.0,904.2L1196.6,906.1L1198.4,907.8L1200.3,909.2L1202.4,910.3L1204.6,911.1L1206.9,911.5L1209.3,911.4L1211.7,910.8L1214.2,909.9L1216.6,908.7L1219.0,907.3L1221.2,905.6L1223.3,903.9L1225.3,902.1L1227.0,900.4L1228.5,898.6L1229.9,896.8L1231.1,895.0L1232.2,893.1L1233.2,891.2L1234.2,889.2L1235.1,887.1L1235.9,884.9L1236.8,882.7L1237.7,880.3L1238.7,877.8L1239.7,875.1L1240.7,872.5L1241.9,869.8L1243.2,867.1L1244.6,864.6L1246.0,862.3L1247.7,860.2L1249.4,858.4L1251.3,857.0L1253.4,856.0L1255.6,855.4L1258.0,855.3L1260.4,855.6L1262.8,856.1L1265.3,857.0L1267.6,858.1L1269.8,859.3L1271.8,860.7L1273.7,862.2L1275.4,863.9L1277.0,865.7L1278.5,867.5L1279.8,869.5L1281.0,871.5L1282.2,873.7L1283.2,875.9L1284.1,878.2L1284.9,880.5L1285.7,882.9L1286.4,885.4L1287.0,887.9L1287.7,890.4L1288.2,892.9L1288.8,895.5L1289.3,898.1L1289.8,900.6L1290.3,903.2L1290.8,905.7L1291.3,908.3L1291.8,910.8L1292.3,913.4L1292.8,915.9L1293.3,918.4L1293.8,920.9L1294.3,923.4L1294.8,925.9L1295.3,928.4L1295.8,930.9L1296.3,933.4L1296.8,935.9L1297.3,938.3L1297.9,940.8L1298.4,943.3L1298.9,945.7L1299.4,948.2L1299.9,950.6L1300.5,953.1L1301.0,955.5L1301.5,957.9L1302.0,960.4L1302.6,962.8L1303.1,965.2L1303.7,967.6L1304.2,970.0L1304.8,972.5L1305.3,974.9L1305.9,977.3L1306.4,979.7L1307.0,982.1L1307.6,984.5L1308.1,986.9L1308.7,989.3L1309.3,991.6L1309.9,994.0L1310.5,996.4L1311.1,998.8L1311.7,1001.2L1312.3,1003.6L1312.9,1006.0L1313.6,1008.3L1314.2,1010.7L1314.8,1013.1L1315.5,1015.5L1316.1,1017.9L1316.8,1020.2L1317.4,1022.6L1318.1,1025.0L1318.8,1027.4L1319.4,1029.8L1320.1,1032.1L1320.8,1034.5L1321.5,1036.9L1322.2,1039.3L1322.9,1041.7L1323.6,1044.0L1324.4,1046.4L1325.1,1048.8L1325.8,1051.2L1326.5,1053.6L1327.3,1055.9L1328.0,1058.3L1328.8,1060.7L1329.5,1063.1L1330.3,1065.5L1331.1,1067.8L1331.8,1070.2L1332.6,1072.6L1333.4,1075.0L1334.2,1077.4L1335.0,1079.8L1335.7,1082.2L1336.5,1084.6L1337.4,1086.9L1338.2,1089.3L1339.0,1091.7L1339.8,1094.1L1340.6,1096.5L1341.4,1098.9L1342.3,1101.3L1343.1,1103.7L1344.0,1106.1L1344.8,1108.5L1345.7,1110.8L1346.6,1113.2L1347.4,1115.6L1348.3,1118.0L1349.2,1120.3L1350.2,1122.7L1351.1,1125.1L1352.0,1127.4L1353.0,1129.8L1353.9,1132.1L1354.9,1134.4L1355.9,1136.7L1356.9,1139.0L1357.9,1141.4L1359.0,1143.6L1360.0,1145.9L1361.1,1148.2L1362.1,1150.5L1363.2,1152.7L1364.4,1154.9L1365.5,1157.2L1366.6,1159.4L1367.8,1161.6L1369.0,1163.8L1370.2,1165.9L1371.4,1168.1L1372.7,1170.2L1374.0,1172.3L1375.2,1174.5L1376.6,1176.5L1377.9,1178.6L1379.3,1180.7L1380.6,1182.7L1382.0,1184.7L1383.5,1186.7L1384.9,1188.7L1386.4,1190.7L1387.9,1192.6L1389.5,1194.5L1391.0,1196.4L1392.6,1198.3L1394.2,1200.1L1395.9,1201.9L1397.5,1203.7L1399.2,1205.5L1401.0,1207.3L1402.7,1209.0L1404.5,1210.7L1406.4,1212.4L1408.2,1214.0L1410.1,1215.7L1412.0,1217.3L1414.0,1218.8L1415.9,1220.4L1417.9,1221.9L1420.0,1223.4L1422.0,1224.9L1424.1,1226.3L1426.2,1227.7L1428.3,1229.2L1430.4,1230.5L1432.5,1231.9L1434.7,1233.3L1436.8,1234.6L1439.0,1235.9L1441.2,1237.2L1443.4,1238.5L1445.6,1239.8L1447.8,1241.0L1449.9,1242.3L1452.1,1243.5L1454.3,1244.7L1456.5,1245.9L1458.7,1247.1L1460.9,1248.3L1463.1,1249.4L1465.3,1250.6L1467.5,1251.7L1469.7,1252.8L1471.9,1253.8L1474.1,1254.8L1476.4,1255.8L1478.6,1256.8L1480.9,1257.7L1483.2,1258.6L1485.5,1259.5L1487.8,1260.3L1490.1,1261.1L1492.5,1261.8L1494.8,1262.5L1497.2,1263.2L1499.6,1263.8L1502.0,1264.4L1504.5,1265.0L1506.9,1265.6L1509.3,1266.1L1511.8,1266.6L1514.3,1267.0L1516.7,1267.5L1519.2,1267.9L1521.7,1268.3L1524.2,1268.6L1526.7,1269.0L1529.2,1269.3L1531.7,1269.7L1534.2,1270.0L1536.7,1270.3L1539.2,1270.5L1541.7,1270.8L1544.2,1271.1L1546.7,1271.3L1549.2,1271.6L1551.7,1271.8L1554.2,1272.0L1556.7,1272.2L1559.2,1272.4L1561.7,1272.5L1564.2,1272.7L1566.7,1272.9L1569.2,1273.0L1571.7,1273.1L1574.2,1273.3L1576.7,1273.4L1579.2,1273.5L1581.7,1273.5L1584.2,1273.6L1586.7,1273.7L1589.2,1273.7L1591.7,1273.8L1594.2,1273.8L1596.7,1273.8L1599.2,1273.9L1601.7,1273.9L1604.1,1273.9L1606.6,1273.8L1609.1,1273.8L1611.6,1273.8L1614.1,1273.7L1616.6,1273.7L1619.1,1273.6L1621.6,1273.5L1624.1,1273.5L1626.6,1273.4L1629.1,1273.3L1631.6,1273.2L1634.1,1273.0L1636.6,1272.9L1639.1,1272.8L1641.6,1272.6L1644.0,1272.5L1646.5,1272.3L1649.0,1272.2L1651.5,1272.0L1654.0,1271.8L1656.5,1271.6L1659.0,1271.4L1661.5,1271.2L1664.0,1271.0L1666.4,1270.7L1668.9,1270.5L1671.4,1270.3L1673.9,1270.0L1676.4,1269.8L1678.9,1269.5L1681.3,1269.3L1683.8,1269.0L1686.3,1268.7L1688.8,1268.4L1691.3,1268.1L1693.7,1267.8L1696.2,1267.5L1698.7,1267.2L1701.2,1266.9L1703.6,1266.5L1706.1,1266.2L1708.6,1265.9L1711.1,1265.5L1713.5,1265.2L1716.0,1264.8L1718.5,1264.5L1721.0,1264.1L1723.4,1263.7L1725.9,1263.4L1728.4,1263.0L1730.8,1262.6L1733.3,1262.2L1735.8,1261.8L1738.3,1261.4L1740.7,1261.0L1743.2,1260.6L1745.7,1260.2L1748.1,1259.8L1750.6,1259.3L1753.1,1258.9L1755.5,1258.5L1758.0,1258.1L1760.5,1257.6L1762.9,1257.2L1765.4,1256.7L1767.8,1256.3L1770.3,1255.8L1772.8,1255.4L1775.2,1254.9L1777.7,1254.5L1780.1,1254.0L1782.6,1253.5L1785.1,1253.0L1787.5,1252.6L1790.0,1252.1L1792.4,1251.6L1794.9,1251.1L1797.4,1250.7L1799.8,1250.2L1802.3,1249.7L1804.7,1249.2L1807.2,1248.7L1809.6,1248.2L1812.1,1247.7L1814.6,1247.2L1817.0,1246.7L1819.5,1246.2L1821.9,1245.7L1824.4,1245.2L1826.8,1244.7L1829.3,1244.2L1831.7,1243.7L1834.2,1243.2L1836.6,1242.7L1839.1,1242.2L1841.5,1241.7L1844.0,1241.2L1846.4,1240.7L1848.9,1240.2L1851.3,1239.6L1853.8,1239.1L1856.2,1238.6L1858.7,1238.1L1861.1,1237.6L1863.6,1237.1L1866.0,1236.6L1868.5,1236.1L1870.9,1235.6L1873.4,1235.1L1875.8,1234.6L1878.3,1234.1L1880.7,1233.6L1883.2,1233.1L1885.6,1232.6L1888.1,1232.1L1890.5,1231.6L1892.9,1231.1L1895.4,1230.6L1897.8,1230.1L1900.3,1229.6L1902.7,1229.1L1905.2,1228.6L1907.6,1228.1L1910.1,1227.7L1912.5,1227.2L1914.9,1226.7L1917.4,1226.2L1919.8,1225.8L1922.3,1225.3L1924.7,1224.8L1927.2,1224.4L1929.6,1223.9L1932.0,1223.4L1934.5,1223.0"/>
<path stroke="#7030A0" d="M227.5,1037.5L230.0,1037.3L232.5,1037.1L235.0,1036.9L237.4,1036.7L239.9,1036.5L242.4,1036.2L244.9,1036.0L247.4,1035.8L249.9,1035.6L252.4,1035.3L254.9,1035.1L257.3,1034.9L259.8,1034.6L262.3,1034.4L264.8,1034.2L267.3,1033.9L269.8,1033.7L272.3,1033.5L274.8,1033.2L277.2,1033.0L279.7,1032.7L282.2,1032.5L284.7,1032.3L287.2,1032.0L289.7,1031.8L292.2,1031.5L294.7,1031.3L297.1,1031.0L299.6,1030.8L302.1,1030.5L304.6,1030.3L307.1,1030.0L309.6,1029.7L312.1,1029.5L314.5,1029.2L317.0,1029.0L319.5,1028.7L322.0,1028.5L324.5,1028.2L327.0,1027.9L329.5,1027.7L331.9,1027.4L334.4,1027.1L336.9,1026.9L339.4,1026.6L341.9,1026.3L344.4,1026.1L346.9,1025.8L349.3,1025.5L351.8,1025.3L354.3,1025.0L356.8,1024.7L359.3,1024.5L361.8,1024.2L364.3,1023.9L366.7,1023.7L369.2,1023.4L371.7,1023.1L374.2,1022.8L376.7,1022.6L379.2,1022.3L381.7,1022.0L384.1,1021.8L386.6,1021.5L389.1,1021.2L391.6,1020.9L394.1,1020.7L396.6,1020.4L399.1,1020.1L401.5,1019.8L404.0,1019.6L406.5,1019.3L409.0,1019.0L411.5,1018.8L414.0,1018.5L416.5,1018.2L418.9,1017.9L421.4,1017.7L423.9,1017.4L426.4,1017.1L428.9,1016.9L431.4,1016.6L433.9,1016.3L436.3,1016.1L438.8,1015.8L441.3,1015.5L443.8,1015.2L446.3,1015.0L448.8,1014.7L451.3,1014.4L453.7,1014.2L456.2,1013.9L458.7,1013.7L461.2,1013.4L463.7,1013.1L466.2,1012.9L468.7,1012.6L471.1,1012.3L473.6,1012.1L476.1,1011.8L478.6,1011.6L481.1,1011.3L483.6,1011.1L486.1,1010.8L488.5,1010.6L491.0,1010.3L493.5,1010.0L496.0,1009.8L498.5,1009.6L501.0,1009.3L503.5,1009.1L506.0,1008.8L508.4,1008.6L510.9,1008.3L513.4,1008.1L515.9,1007.8L518.4,1007.6L520.9,1007.4L523.4,1007.1L525.9,1006.9L528.3,1006.7L530.8,1006.4L533.3,1006.2L535.8,1006.0L538.3,1005.7L540.8,1005.5L543.3,1005.3L545.8,1005.1L548.2,1004.8L550.7,1004.6L553.2,1004.4L555.7,1004.2L558.2,1004.0L560.7,1003.8L563.2,1003.6L565.7,1003.4L568.2,1003.2L570.6,1003.0L573.1,1002.8L575.6,1002.6L578.1,1002.4L580.6,1002.2L583.1,1002.0L585.6,1001.8L588.1,1001.6L590.6,1001.4L593.1,1001.3L595.6,1001.1L598.0,1000.9L600.5,1000.7L603.0,1000.6L605.5,1000.4L608.0,1000.3L610.5,1000.1L613.0,999.9L615.5,999.8L618.0,999.6L620.5,999.5L623.0,999.4L625.5,999.2L628.0,999.1L630.5,999.0L633.0,998.8L635.4,998.7L637.9,998.6L640.4,998.5L642.9,998.4L645.4,998.3L647.9,998.2L650.4,998.1L652.9,998.0L655.4,997.9L657.9,997.8L660.4,997.7L662.9,997.6L665.4,997.6L667.9,997.5L670.4,997.4L672.9,997.4L675.4,997.3L677.9,997.3L680.4,997.2L682.9,997.2L685.4,997.2L687.9,997.1L690.4,997.1L692.9,997.1L695.4,997.1L697.9,997.1L700.4,997.1L702.9,997.1L705.4,997.1L708.0,997.1L710.5,997.2L713.0,997.2L715.5,997.2L718.0,997.3L720.5,997.4L722.9,997.5L725.4,997.6L727.9,997.7L730.4,997.8L732.9,997.9L735.4,998.1L737.9,998.3L740.4,998.5L742.9,998.7L745.3,998.9L747.8,999.1L750.3,999.4L752.8,999.6L755.2,999.9L757.7,1000.2L760.2,1000.5L762.6,1000.8L765.1,1001.1L767.6,1001.5L770.0,1001.8L772.5,1002.2L775.0,1002.6L777.4,1003.0L779.9,1003.4L782.4,1003.8L784.8,1004.2L787.3,1004.6L789.7,1005.1L792.2,1005.5L794.7,1006.0L797.1,1006.4L799.6,1006.9L802.0,1007.4L804.5,1007.9L807.0,1008.3L809.4,1008.8L811.9,1009.3L814.3,1009.8L816.8,1010.3L819.3,1010.9L821.7,1011.4L824.2,1011.9L826.6,1012.4L829.1,1012.9L831.6,1013.4L834.0,1014.0L836.5,1014.5L838.9,1015.0L841.4,1015.5L843.8,1016.1L846.3,1016.6L848.7,1017.1L851.2,1017.6L853.7,1018.1L856.1,1018.6L858.6,1019.1L861.0,1019.6L863.5,1020.1L865.9,1020.6L868.4,1021.1L870.8,1021.6L873.3,1022.1L875.7,1022.5L878.2,1023.0L880.6,1023.4L883.1,1023.9L885.5,1024.3L888.0,1024.7L890.4,1025.2L892.9,1025.6L895.3,1026.0L897.8,1026.4L900.2,1026.8L902.7,1027.2L905.1,1027.6L907.5,1028.0L910.0,1028.4L912.4,1028.8L914.9,1029.2L917.3,1029.6L919.8,1030.0L922.2,1030.4L924.7,1030.8L927.1,1031.2L929.5,1031.6L932.0,1032.0L934.4,1032.4L936.9,1032.9L939.3,1033.3L941.8,1033.7L944.2,1034.2L946.6,1034.6L949.1,1035.1L951.5,1035.6L954.0,1036.1L956.4,1036.6L958.9,1037.1L961.3,1037.6L963.7,1038.1L966.2,1038.7L968.6,1039.3L971.1,1039.9L973.5,1040.4L976.0,1041.1L978.4,1041.7L980.8,1042.3L983.3,1043.0L985.7,1043.7L988.2,1044.4L990.6,1045.1L993.1,1045.8L995.5,1046.4L998.0,1047.1L1000.4,1047.7L1002.9,1048.4L1005.3,1049.0L1007.8,1049.5L1010.2,1050.1L1012.7,1050.5L1015.2,1051.0L1017.6,1051.4L1020.1,1051.7L1022.6,1052.0L1025.0,1052.2L1027.5,1052.3L1030.0,1052.3L1032.5,1052.3L1035.0,1052.2L1037.5,1052.0L1040.0,1051.7L1042.5,1051.3L1044.9,1050.8L1047.4,1050.2L1049.9,1049.5L1052.3,1048.7L1054.6,1047.8L1057.0,1046.8L1059.2,1045.7L1061.4,1044.6L1063.6,1043.3L1065.6,1041.9L1067.6,1040.5L1069.5,1038.9L1071.2,1037.3L1072.9,1035.6L1074.5,1033.7L1075.9,1031.8L1077.3,1029.8L1078.5,1027.8L1079.7,1025.6L1080.8,1023.4L1081.7,1021.2L1082.7,1018.8L1083.5,1016.5L1084.3,1014.1L1085.1,1011.7L1085.8,1009.2L1086.5,1006.7L1087.2,1004.2L1087.8,1001.7L1088.4,999.2L1089.0,996.7L1089.6,994.2L1090.2,991.7L1090.8,989.2L1091.4,986.7L1091.9,984.2L1092.5,981.7L1093.1,979.2L1093.6,976.7L1094.2,974.3L1094.8,971.8L1095.3,969.3L1095.8,966.8L1096.4,964.4L1096.9,961.9L1097.4,959.5L1098.0,957.0L1098.5,954.5L1099.0,952.1L1099.5,949.6L1100.0,947.2L1100.5,944.7L1101.0,942.3L1101.5,939.9L1102.0,937.4L1102.4,935.0L1102.9,932.5L1103.4,930.1L1103.9,927.7L1104.3,925.2L1104.8,922.8L1105.2,920.4L1105.7,917.9L1106.1,915.5L1106.6,913.1L1107.0,910.6L1107.5,908.2L1107.9,905.8L1108.3,903.3L1108.7,900.9L1109.2,898.5L1109.6,896.0L1110.0,893.6L1110.4,891.2L1110.8,888.7L1111.2,886.3L1111.6,883.9L1112.0,881.4L1112.4,879.0L1112.8,876.6L1113.2,874.1L1113.6,871.7L1114.0,869.2L1114.4,866.8L1114.7,864.4L1115.1,861.9L1115.5,859.5L1115.8,857.0L1116.2,854.6L1116.6,852.1L1116.9,849.6L1117.3,847.2L1117.7,844.7L1118.0,842.3L1118.4,839.8L1118.7,837.3L1119.1,834.9L1119.4,832.4L1119.8,829.9L1120.1,827.4L1120.5,825.0L1120.8,822.5L1121.2,820.0L1121.5,817.5L1121.9,815.1L1122.2,812.6L1122.5,810.1L1122.9,807.6L1123.2,805.1L1123.6,802.6L1123.9,800.2L1124.3,797.7L1124.6,795.2L1125.0,792.7L1125.3,790.2L1125.7,787.7L1126.0,785.3L1126.4,782.8L1126.8,780.3L1127.1,777.8L1127.5,775.3L1127.8,772.8L1128.2,770.3L1128.6,767.9L1129.0,765.4L1129.3,762.9L1129.7,760.4L1130.1,757.9L1130.5,755.4L1130.9,753.0L1131.3,750.5L1131.7,748.0L1132.1,745.5L1132.5,743.0L1132.9,740.6L1133.3,738.1L1133.7,735.6L1134.1,733.2L1134.6,730.7L1135.0,728.2L1135.4,725.7L1135.9,723.3L1136.3,720.8L1136.8,718.4L1137.2,715.9L1137.7,713.4L1138.2,711.0L1138.7,708.5L1139.1,706.1L1139.6,703.6L1140.1,701.2L1140.6,698.7L1141.1,696.3L1141.7,693.9L1142.2,691.4L1142.7,689.0L1143.2,686.6L1143.8,684.1L1144.3,681.7L1144.9,679.3L1145.4,676.8L1145.9,674.4L1146.4,672.0L1147.0,669.6L1147.5,667.1L1148.0,664.7L1148.5,662.3L1149.0,659.8L1149.5,657.4L1150.0,655.0L1150.5,652.5L1150.9,650.1L1151.4,647.7L1151.8,645.2L1152.2,642.8L1152.6,640.3L1153.0,637.9L1153.4,635.4L1153.7,633.0L1154.1,630.5L1154.5,628.0L1154.9,625.6L1155.4,623.1L1156.0,620.6L1156.6,618.2L1157.4,615.7L1158.4,613.3L1159.5,610.8L1160.8,608.4L1162.4,606.2L1164.2,604.6L1166.3,603.6L1168.3,603.5L1170.3,604.4L1172.2,606.0L1173.8,608.0L1175.3,610.2L1176.6,612.5L1177.8,614.9L1178.9,617.3L1180.0,619.7L1181.0,622.1L1182.0,624.5L1183.0,626.9L1184.0,629.2L1184.9,631.6L1185.7,633.9L1186.6,636.2L1187.4,638.6L1188.2,640.9L1189.0,643.3L1189.8,645.6L1190.5,647.9L1191.2,650.3L1191.9,652.6L1192.6,655.0L1193.3,657.3L1194.0,659.7L1194.6,662.1L1195.2,664.5L1195.9,666.9L1196.5,669.3L1197.1,671.7L1197.7,674.1L1198.2,676.5L1198.8,678.9L1199.4,681.3L1199.9,683.7L1200.4,686.2L1201.0,688.6L1201.5,691.0L1202.0,693.5L1202.5,695.9L1203.0,698.4L1203.5,700.8L1203.9,703.3L1204.4,705.7L1204.9,708.2L1205.3,710.6L1205.8,713.1L1206.2,715.6L1206.7,718.0L1207.1,720.5L1207.5,723.0L1208.0,725.4L1208.4,727.9L1208.8,730.4L1209.2,732.9L1209.7,735.4L1210.1,737.8L1210.5,740.3L1210.9,742.8L1211.3,745.3L1211.7,747.8L1212.1,750.2L1212.5,752.7L1212.9,755.2L1213.4,757.7L1213.8,760.1L1214.2,762.6L1214.6,765.1L1215.0,767.6L1215.4,770.0L1215.9,772.5L1216.3,775.0L1216.7,777.5L1217.2,779.9L1217.6,782.4L1218.0,784.9L1218.5,787.3L1218.9,789.8L1219.4,792.2L1219.8,794.7L1220.3,797.2L1220.8,799.6L1221.2,802.1L1221.7,804.5L1222.2,807.0L1222.7,809.4L1223.2,811.9L1223.7,814.3L1224.2,816.8L1224.7,819.2L1225.2,821.6L1225.7,824.1L1226.3,826.5L1226.8,828.9L1227.4,831.4L1227.9,833.8L1228.5,836.2L1229.1,838.6L1229.7,841.1L1230.3,843.5L1230.9,845.9L1231.5,848.3L1232.1,850.7L1232.7,853.1L1233.4,855.5L1234.0,857.9L1234.7,860.3L1235.4,862.7L1236.1,865.1L1236.8,867.5L1237.5,869.9L1238.2,872.3L1238.9,874.7L1239.7,877.0L1240.4,879.4L1241.2,881.8L1242.0,884.2L1242.8,886.5L1243.6,888.9L1244.4,891.3L1245.2,893.6L1246.1,896.0L1246.9,898.3L1247.8,900.7L1248.7,903.0L1249.6,905.3L1250.5,907.7L1251.5,910.0L1252.5,912.3L1253.4,914.6L1254.5,916.9L1255.5,919.2L1256.6,921.4L1257.7,923.7L1258.8,925.9L1260.0,928.0L1261.3,930.2L1262.6,932.2L1263.9,934.3L1265.3,936.3L1266.8,938.3L1268.3,940.2L1269.9,942.1L1271.6,943.9L1273.3,945.6L1275.1,947.3L1277.0,948.9L1278.9,950.5L1281.0,952.0L1283.1,953.4L1285.3,954.8L1287.6,956.1L1289.9,957.3L1292.2,958.5L1294.6,959.6L1297.0,960.7L1299.4,961.7L1301.8,962.7L1304.1,963.7L1306.4,964.7L1308.7,965.6L1311.0,966.5L1313.2,967.4L1315.4,968.2L1317.7,968.9L1320.0,969.6L1322.3,970.2L1324.6,970.8L1327.0,971.2L1329.5,971.5L1332.0,971.8L1334.6,972.1L1337.2,972.3L1339.7,972.5L1342.3,972.7L1344.9,973.0L1347.4,973.4L1349.9,973.8L1352.4,974.3L1354.8,975.0L1357.1,975.8L1359.3,976.8L1361.5,978.0L1363.5,979.3L1365.5,980.8L1367.4,982.4L1369.2,984.2L1370.9,986.1L1372.6,988.0L1374.2,990.0L1375.8,992.0L1377.3,994.1L1378.8,996.2L1380.3,998.3L1381.7,1000.4L1383.0,1002.6L1384.4,1004.7L1385.6,1006.8L1386.9,1009.0L1388.1,1011.2L1389.3,1013.3L1390.5,1015.5L1391.6,1017.7L1392.8,1019.9L1393.8,1022.2L1394.9,1024.4L1395.9,1026.6L1397.0,1028.9L1398.0,1031.1L1398.9,1033.4L1399.9,1035.6L1400.8,1037.9L1401.8,1040.2L1402.7,1042.5L1403.6,1044.8L1404.5,1047.1L1405.4,1049.4L1406.3,1051.7L1407.1,1054.0L1408.0,1056.4L1408.8,1058.7L1409.7,1061.0L1410.6,1063.4L1411.4,1065.7L1412.3,1068.1L1413.1,1070.4L1414.0,1072.8L1414.8,1075.2L1415.6,1077.5L1416.5,1079.9L1417.4,1082.3L1418.2,1084.6L1419.1,1087.0L1419.9,1089.4L1420.8,1091.8L1421.6,1094.1L1422.5,1096.5L1423.4,1098.9L1424.3,1101.3L1425.1,1103.6L1426.0,1106.0L1426.9,1108.4L1427.8,1110.7L1428.7,1113.1L1429.7,1115.4L1430.6,1117.8L1431.5,1120.1L1432.5,1122.5L1433.4,1124.8L1434.4,1127.1L1435.3,1129.5L1436.3,1131.8L1437.3,1134.1L1438.3,1136.4L1439.4,1138.7L1440.4,1141.0L1441.4,1143.3L1442.5,1145.6L1443.6,1147.8L1444.6,1150.1L1445.7,1152.3L1446.9,1154.5L1448.0,1156.8L1449.1,1159.0L1450.3,1161.2L1451.5,1163.4L1452.7,1165.5L1453.9,1167.7L1455.1,1169.9L1456.4,1172.0L1457.7,1174.1L1459.0,1176.2L1460.3,1178.3L1461.6,1180.4L1463.0,1182.5L1464.4,1184.5L1465.8,1186.5L1467.2,1188.6L1468.6,1190.6L1470.1,1192.5L1471.6,1194.5L1473.1,1196.5L1474.7,1198.4L1476.2,1200.3L1477.8,1202.2L1479.4,1204.0L1481.1,1205.9L1482.8,1207.7L1484.5,1209.5L1486.2,1211.3L1487.9,1213.1L1489.7,1214.8L1491.5,1216.5L1493.4,1218.2L1495.2,1219.9L1497.1,1221.5L1499.0,1223.2L1500.9,1224.8L1502.9,1226.3L1504.9,1227.9L1506.9,1229.4L1508.9,1230.9L1510.9,1232.4L1513.0,1233.8L1515.1,1235.2L1517.1,1236.6L1519.3,1237.9L1521.4,1239.2L1523.6,1240.5L1525.7,1241.8L1527.9,1243.0L1530.1,1244.2L1532.3,1245.4L1534.6,1246.5L1536.8,1247.6L1539.1,1248.7L1541.4,1249.7L1543.7,1250.7L1546.0,1251.6L1548.3,1252.6L1550.6,1253.4L1553.0,1254.3L1555.3,1255.1L1557.7,1255.9L1560.1,1256.6L1562.4,1257.4L1564.8,1258.0L1567.2,1258.7L1569.6,1259.3L1572.1,1259.9L1574.5,1260.5L1576.9,1261.0L1579.4,1261.5L1581.8,1262.0L1584.3,1262.5L1586.7,1262.9L1589.2,1263.4L1591.7,1263.8L1594.2,1264.2L1596.6,1264.5L1599.1,1264.9L1601.6,1265.2L1604.1,1265.5L1606.6,1265.8L1609.1,1266.1L1611.6,1266.4L1614.1,1266.7L1616.6,1266.9L1619.1,1267.2L1621.6,1267.4L1624.1,1267.7L1626.6,1267.9L1629.1,1268.1L1631.6,1268.3L1634.1,1268.5L1636.6,1268.7L1639.0,1268.9L1641.5,1269.0L1644.0,1269.2L1646.5,1269.4L1649.0,1269.5L1651.5,1269.6L1654.0,1269.7L1656.5,1269.9L1659.0,1270.0L1661.5,1270.0L1664.0,1270.1L1666.5,1270.2L1669.0,1270.2L1671.4,1270.3L1673.9,1270.3L1676.4,1270.3L1678.9,1270.3L1681.4,1270.3L1683.9,1270.3L1686.4,1270.2L1688.9,1270.2L1691.3,1270.1L1693.8,1270.0L1696.3,1269.9L1698.8,1269.8L1701.3,1269.7L1703.7,1269.6L1706.2,1269.4L1708.7,1269.2L1711.2,1269.1L1713.7,1268.9L1716.1,1268.7L1718.6,1268.4L1721.1,1268.2L1723.6,1267.9L1726.0,1267.7L1728.5,1267.4L1731.0,1267.1L1733.4,1266.8L1735.9,1266.5L1738.4,1266.2L1740.9,1265.9L1743.3,1265.5L1745.8,1265.2L1748.3,1264.8L1750.7,1264.5L1753.2,1264.1L1755.7,1263.7L1758.1,1263.3L1760.6,1262.9L1763.1,1262.5L1765.5,1262.0L1768.0,1261.6L1770.4,1261.2L1772.9,1260.7L1775.4,1260.2L1777.8,1259.8L1780.3,1259.3L1782.7,1258.8L1785.2,1258.4L1787.7,1257.9L1790.1,1257.4L1792.6,1256.9L1795.0,1256.4L1797.5,1255.9L1800.0,1255.3L1802.4,1254.8L1804.9,1254.3L1807.3,1253.8L1809.8,1253.2L1812.2,1252.7L1814.7,1252.1L1817.1,1251.6L1819.6,1251.1L1822.0,1250.5L1824.5,1250.0L1826.9,1249.4L1829.4,1248.8L1831.8,1248.3L1834.3,1247.7L1836.7,1247.2L1839.2,1246.6L1841.6,1246.1L1844.1,1245.5L1846.5,1244.9L1849.0,1244.4L1851.4,1243.8L1853.9,1243.3L1856.3,1242.7L1858.8,1242.1L1861.2,1241.6L1863.7,1241.0L1866.1,1240.5L1868.6,1239.9L1871.0,1239.4L1873.4,1238.8L1875.9,1238.3L1878.3,1237.8L1880.8,1237.2L1883.2,1236.7L1885.7,1236.2L1888.1,1235.6L1890.6,1235.1L1893.0,1234.6L1895.4,1234.1L1897.9,1233.6L1900.3,1233.1L1902.8,1232.6L1905.2,1232.1L1907.7,1231.6L1910.1,1231.2L1912.5,1230.7L1915.0,1230.3L1917.4,1229.8L1919.9,1229.4L1922.3,1228.9L1924.7,1228.5L1927.2,1228.1L1929.6,1227.7L1932.1,1227.3L1934.5,1226.9"/>
</g>
<rect x="250" y="46" width="800" height="84" fill="#fff"/>
<rect x="400" y="276" width="520" height="88" fill="#fff"/>
<rect x="1112" y="135" width="524.5" height="124" fill="#fff"/>
<rect x="254.4" y="425" width="241.2" height="410" fill="#fff"/>
<rect x="285.6" y="1034" width="570.4" height="178" fill="#fff"/>
<rect x="1030" y="1186.6" width="105" height="64.4" fill="#fff"/>
<path d="M227.5,37V1282.5" stroke="#000" stroke-width="1.8" fill="none"/>
<path d="M939.3,228.3H1047.3M934.2,457H983.4" stroke="#7F7F7F" stroke-width="1.6" fill="none"/>
<path d="M935.6,149.4V202M935.4,228.7V451.7M935.5,482V534.6" stroke="#000" stroke-width="2.1" fill="none"/>
<path d="M927.4,200H943.9L935.6,226.2Z M935.5,458L944,483.7H927.4Z" fill="#000"/>
<text x="182.5" y="55.5" text-anchor="end" font-family="'Liberation Sans', Arial, sans-serif" font-size="56">1.2</text>
<text x="182.5" y="231.0" text-anchor="end" font-family="'Liberation Sans', Arial, sans-serif" font-size="56">1</text>
<text x="182.5" y="405.5" text-anchor="end" font-family="'Liberation Sans', Arial, sans-serif" font-size="56">0.8</text>
<text x="182.5" y="581.0" text-anchor="end" font-family="'Liberation Sans', Arial, sans-serif" font-size="56">0.6</text>
<text x="182.5" y="757.1" text-anchor="end" font-family="'Liberation Sans', Arial, sans-serif" font-size="56">0.4</text>
<text x="182.5" y="932.5" text-anchor="end" font-family="'Liberation Sans', Arial, sans-serif" font-size="56">0.2</text>
<text x="182.5" y="1108.1" text-anchor="end" font-family="'Liberation Sans', Arial, sans-serif" font-size="56">0</text>
<text x="182.5" y="1283.8" text-anchor="end" font-family="'Liberation Sans', Arial, sans-serif" font-size="56">-0.2</text>
<text transform="translate(228.5,1354) scale(1.0,0.97)" text-anchor="middle" font-family="Carlito, Calibri, 'Liberation Sans', sans-serif" font-size="55.5" textLength="84.37" lengthAdjust="spacingAndGlyphs">330</text>
<text transform="translate(512.9,1354) scale(1.0,0.97)" text-anchor="middle" font-family="Carlito, Calibri, 'Liberation Sans', sans-serif" font-size="55.5" textLength="84.37" lengthAdjust="spacingAndGlyphs">340</text>
<text transform="translate(797.0,1354) scale(1.0,0.97)" text-anchor="middle" font-family="Carlito, Calibri, 'Liberation Sans', sans-serif" font-size="55.5" textLength="84.37" lengthAdjust="spacingAndGlyphs">350</text>
<text transform="translate(1081.5,1354) scale(1.0,0.97)" text-anchor="middle" font-family="Carlito, Calibri, 'Liberation Sans', sans-serif" font-size="55.5" textLength="84.37" lengthAdjust="spacingAndGlyphs">360</text>
<text transform="translate(1365.5,1354) scale(1.0,0.97)" text-anchor="middle" font-family="Carlito, Calibri, 'Liberation Sans', sans-serif" font-size="55.5" textLength="84.37" lengthAdjust="spacingAndGlyphs">370</text>
<text transform="translate(1649.8,1354) scale(1.0,0.97)" text-anchor="middle" font-family="Carlito, Calibri, 'Liberation Sans', sans-serif" font-size="55.5" textLength="84.37" lengthAdjust="spacingAndGlyphs">380</text>
<text transform="translate(1934.0,1354) scale(1.0,0.97)" text-anchor="middle" font-family="Carlito, Calibri, 'Liberation Sans', sans-serif" font-size="55.5" textLength="84.37" lengthAdjust="spacingAndGlyphs">390</text>
<text transform="translate(1030.5,1441) scale(1.008,1.0)" text-anchor="middle" font-family="'Liberation Sans', Arial, sans-serif" font-size="65">crank angle, deg</text>
<text transform="translate(61,683) rotate(-90) scale(1.01,1)" text-anchor="middle" font-family="'Liberation Sans', Arial, sans-serif" font-size="65">PPR, MPa/deg</text>
<text transform="translate(272,110.5) scale(0.997,0.955)" font-family="Carlito, Calibri, 'Liberation Sans', sans-serif" font-size="55" textLength="735.57" lengthAdjust="spacingAndGlyphs">limit for engine PPR = 1 MPa/deg</text>
<text transform="translate(1112.5,190.8) scale(0.988,0.955)" font-family="Carlito, Calibri, 'Liberation Sans', sans-serif" font-size="55" textLength="516.68" lengthAdjust="spacingAndGlyphs">PPR<tspan font-size="37.5" dy="10.8">max</tspan><tspan dy="-10.8"> = 0.97 MPa/deg</tspan></text>
<text transform="translate(1112.5,255.2) scale(1.0,0.955)" font-family="Carlito, Calibri, 'Liberation Sans', sans-serif" font-size="55" textLength="441.51" lengthAdjust="spacingAndGlyphs">at 359 deg for DP15</text>
<text transform="translate(417.5,344) scale(0.992,0.955)" font-family="Carlito, Calibri, 'Liberation Sans', sans-serif" font-size="55" textLength="488.23" lengthAdjust="spacingAndGlyphs"><tspan font-family="'Liberation Serif', serif">&#916;</tspan>PPR = 0.25 MPa/deg</text>
<text transform="translate(305,1097.2) scale(1.0,0.955)" font-family="Carlito, Calibri, 'Liberation Sans', sans-serif" font-size="55" textLength="378.88" lengthAdjust="spacingAndGlyphs">IMEP = 0.75 MPa</text>
<text transform="translate(305,1163.5) scale(1.0,0.955)" font-family="Carlito, Calibri, 'Liberation Sans', sans-serif" font-size="55" textLength="297.04" lengthAdjust="spacingAndGlyphs">n = 1500 rpm</text>
<text transform="translate(305.5,1229.2) scale(0.995,0.955)" font-family="Carlito, Calibri, 'Liberation Sans', sans-serif" font-size="55" textLength="590.04" lengthAdjust="spacingAndGlyphs">SoI of D100 = 20 deg bTDC</text>
<text transform="translate(1037.8,1240.8) scale(1.0,0.955)" font-family="Carlito, Calibri, 'Liberation Sans', sans-serif" font-size="55" textLength="89.95" lengthAdjust="spacingAndGlyphs">TDC</text>
<path d="M283.9,466H335.9" stroke="#000000" stroke-width="4.9" stroke-linecap="round"/>
<text transform="translate(354.8,483.8) scale(1.0,0.955)" font-family="Carlito, Calibri, 'Liberation Sans', sans-serif" font-size="55" textLength="117.46" lengthAdjust="spacingAndGlyphs">D100</text>
<path d="M283.9,548.4H335.9" stroke="#FFC000" stroke-width="4.9" stroke-linecap="round"/>
<text transform="translate(354.8,566.2) scale(1.0,0.955)" font-family="Carlito, Calibri, 'Liberation Sans', sans-serif" font-size="55" textLength="117.98" lengthAdjust="spacingAndGlyphs">DP15</text>
<path d="M283.9,630.5H335.9" stroke="#00B0F0" stroke-width="4.9" stroke-linecap="round"/>
<text transform="translate(354.8,648.3) scale(1.0,0.955)" font-family="Carlito, Calibri, 'Liberation Sans', sans-serif" font-size="55" textLength="117.98" lengthAdjust="spacingAndGlyphs">DP30</text>
<path d="M283.9,713H335.9" stroke="#00B050" stroke-width="4.9" stroke-linecap="round"/>
<text transform="translate(354.8,730.8) scale(1.0,0.955)" font-family="Carlito, Calibri, 'Liberation Sans', sans-serif" font-size="55" textLength="117.98" lengthAdjust="spacingAndGlyphs">DP50</text>
<path d="M283.9,796.2H335.9" stroke="#7030A0" stroke-width="4.9" stroke-linecap="round"/>
<text transform="translate(354.8,814.0) scale(1.0,0.955)" font-family="Carlito, Calibri, 'Liberation Sans', sans-serif" font-size="55" textLength="117.98" lengthAdjust="spacingAndGlyphs">DP65</text>
</svg></body></html>
